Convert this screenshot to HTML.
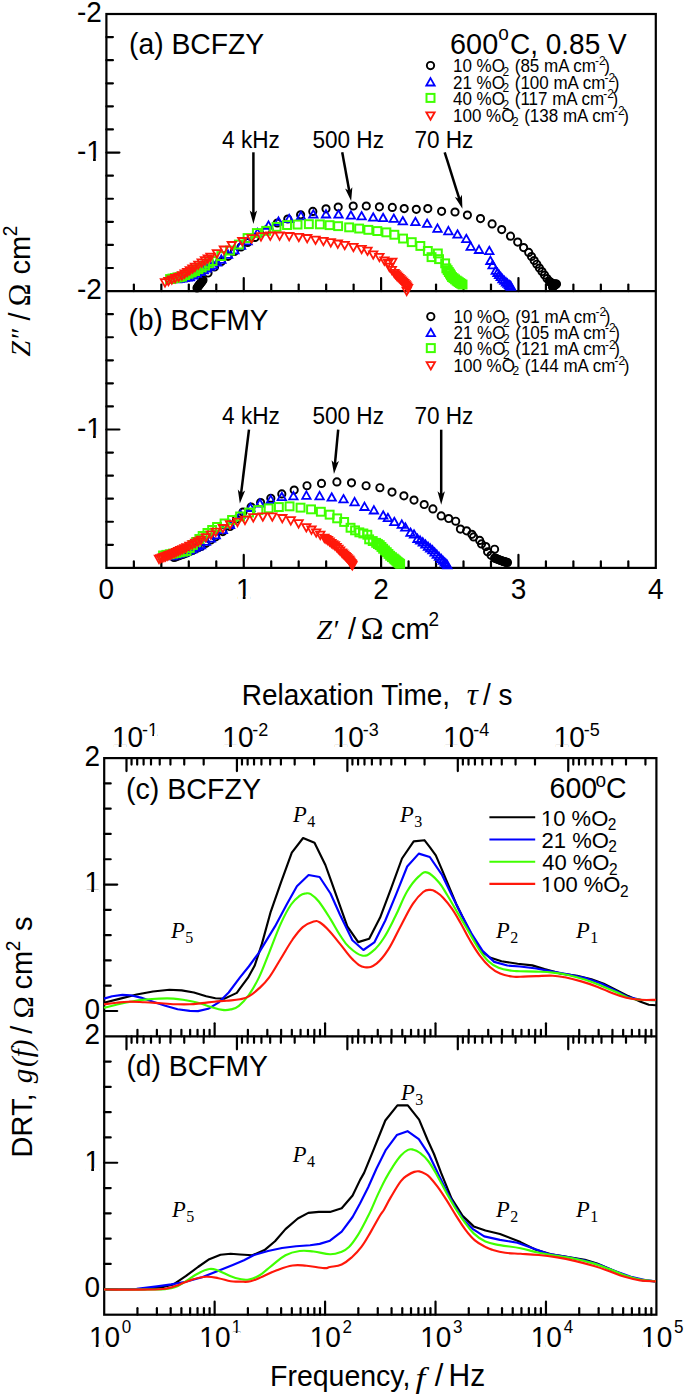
<!DOCTYPE html><html><head><meta charset="utf-8"><style>html,body{margin:0;padding:0;background:#fff;}svg{display:block;}</style></head><body><svg width="685" height="1395" viewBox="0 0 685 1395">
<rect width="685" height="1395" fill="#fff"/>
<rect x="106.40" y="14.00" width="549.40" height="553.90" fill="none" stroke="#000" stroke-width="2.2"/>
<line x1="106.40" y1="291.10" x2="655.80" y2="291.10" stroke="#000" stroke-width="2.2" stroke-linecap="butt"/>
<line x1="106.40" y1="37.09" x2="112.90" y2="37.09" stroke="#000" stroke-width="2.2" stroke-linecap="round"/>
<line x1="106.40" y1="60.18" x2="112.90" y2="60.18" stroke="#000" stroke-width="2.2" stroke-linecap="round"/>
<line x1="106.40" y1="83.28" x2="112.90" y2="83.28" stroke="#000" stroke-width="2.2" stroke-linecap="round"/>
<line x1="106.40" y1="106.37" x2="112.90" y2="106.37" stroke="#000" stroke-width="2.2" stroke-linecap="round"/>
<line x1="106.40" y1="129.46" x2="112.90" y2="129.46" stroke="#000" stroke-width="2.2" stroke-linecap="round"/>
<line x1="106.40" y1="152.55" x2="119.40" y2="152.55" stroke="#000" stroke-width="2.2" stroke-linecap="round"/>
<line x1="106.40" y1="175.64" x2="112.90" y2="175.64" stroke="#000" stroke-width="2.2" stroke-linecap="round"/>
<line x1="106.40" y1="198.73" x2="112.90" y2="198.73" stroke="#000" stroke-width="2.2" stroke-linecap="round"/>
<line x1="106.40" y1="221.83" x2="112.90" y2="221.83" stroke="#000" stroke-width="2.2" stroke-linecap="round"/>
<line x1="106.40" y1="244.92" x2="112.90" y2="244.92" stroke="#000" stroke-width="2.2" stroke-linecap="round"/>
<line x1="106.40" y1="268.01" x2="112.90" y2="268.01" stroke="#000" stroke-width="2.2" stroke-linecap="round"/>
<line x1="106.40" y1="314.17" x2="112.90" y2="314.17" stroke="#000" stroke-width="2.2" stroke-linecap="round"/>
<line x1="106.40" y1="337.23" x2="112.90" y2="337.23" stroke="#000" stroke-width="2.2" stroke-linecap="round"/>
<line x1="106.40" y1="360.30" x2="112.90" y2="360.30" stroke="#000" stroke-width="2.2" stroke-linecap="round"/>
<line x1="106.40" y1="383.37" x2="112.90" y2="383.37" stroke="#000" stroke-width="2.2" stroke-linecap="round"/>
<line x1="106.40" y1="406.43" x2="112.90" y2="406.43" stroke="#000" stroke-width="2.2" stroke-linecap="round"/>
<line x1="106.40" y1="429.50" x2="119.40" y2="429.50" stroke="#000" stroke-width="2.2" stroke-linecap="round"/>
<line x1="106.40" y1="452.57" x2="112.90" y2="452.57" stroke="#000" stroke-width="2.2" stroke-linecap="round"/>
<line x1="106.40" y1="475.63" x2="112.90" y2="475.63" stroke="#000" stroke-width="2.2" stroke-linecap="round"/>
<line x1="106.40" y1="498.70" x2="112.90" y2="498.70" stroke="#000" stroke-width="2.2" stroke-linecap="round"/>
<line x1="106.40" y1="521.77" x2="112.90" y2="521.77" stroke="#000" stroke-width="2.2" stroke-linecap="round"/>
<line x1="106.40" y1="544.83" x2="112.90" y2="544.83" stroke="#000" stroke-width="2.2" stroke-linecap="round"/>
<line x1="133.87" y1="291.10" x2="133.87" y2="284.60" stroke="#000" stroke-width="2.2" stroke-linecap="round"/>
<line x1="161.34" y1="291.10" x2="161.34" y2="284.60" stroke="#000" stroke-width="2.2" stroke-linecap="round"/>
<line x1="188.81" y1="291.10" x2="188.81" y2="284.60" stroke="#000" stroke-width="2.2" stroke-linecap="round"/>
<line x1="216.28" y1="291.10" x2="216.28" y2="284.60" stroke="#000" stroke-width="2.2" stroke-linecap="round"/>
<line x1="243.75" y1="291.10" x2="243.75" y2="278.10" stroke="#000" stroke-width="2.2" stroke-linecap="round"/>
<line x1="271.22" y1="291.10" x2="271.22" y2="284.60" stroke="#000" stroke-width="2.2" stroke-linecap="round"/>
<line x1="298.69" y1="291.10" x2="298.69" y2="284.60" stroke="#000" stroke-width="2.2" stroke-linecap="round"/>
<line x1="326.16" y1="291.10" x2="326.16" y2="284.60" stroke="#000" stroke-width="2.2" stroke-linecap="round"/>
<line x1="353.63" y1="291.10" x2="353.63" y2="284.60" stroke="#000" stroke-width="2.2" stroke-linecap="round"/>
<line x1="381.10" y1="291.10" x2="381.10" y2="278.10" stroke="#000" stroke-width="2.2" stroke-linecap="round"/>
<line x1="408.57" y1="291.10" x2="408.57" y2="284.60" stroke="#000" stroke-width="2.2" stroke-linecap="round"/>
<line x1="436.04" y1="291.10" x2="436.04" y2="284.60" stroke="#000" stroke-width="2.2" stroke-linecap="round"/>
<line x1="463.51" y1="291.10" x2="463.51" y2="284.60" stroke="#000" stroke-width="2.2" stroke-linecap="round"/>
<line x1="490.98" y1="291.10" x2="490.98" y2="284.60" stroke="#000" stroke-width="2.2" stroke-linecap="round"/>
<line x1="518.45" y1="291.10" x2="518.45" y2="278.10" stroke="#000" stroke-width="2.2" stroke-linecap="round"/>
<line x1="545.92" y1="291.10" x2="545.92" y2="284.60" stroke="#000" stroke-width="2.2" stroke-linecap="round"/>
<line x1="573.39" y1="291.10" x2="573.39" y2="284.60" stroke="#000" stroke-width="2.2" stroke-linecap="round"/>
<line x1="600.86" y1="291.10" x2="600.86" y2="284.60" stroke="#000" stroke-width="2.2" stroke-linecap="round"/>
<line x1="628.33" y1="291.10" x2="628.33" y2="284.60" stroke="#000" stroke-width="2.2" stroke-linecap="round"/>
<line x1="133.87" y1="567.90" x2="133.87" y2="561.40" stroke="#000" stroke-width="2.2" stroke-linecap="round"/>
<line x1="161.34" y1="567.90" x2="161.34" y2="561.40" stroke="#000" stroke-width="2.2" stroke-linecap="round"/>
<line x1="188.81" y1="567.90" x2="188.81" y2="561.40" stroke="#000" stroke-width="2.2" stroke-linecap="round"/>
<line x1="216.28" y1="567.90" x2="216.28" y2="561.40" stroke="#000" stroke-width="2.2" stroke-linecap="round"/>
<line x1="243.75" y1="567.90" x2="243.75" y2="554.90" stroke="#000" stroke-width="2.2" stroke-linecap="round"/>
<line x1="271.22" y1="567.90" x2="271.22" y2="561.40" stroke="#000" stroke-width="2.2" stroke-linecap="round"/>
<line x1="298.69" y1="567.90" x2="298.69" y2="561.40" stroke="#000" stroke-width="2.2" stroke-linecap="round"/>
<line x1="326.16" y1="567.90" x2="326.16" y2="561.40" stroke="#000" stroke-width="2.2" stroke-linecap="round"/>
<line x1="353.63" y1="567.90" x2="353.63" y2="561.40" stroke="#000" stroke-width="2.2" stroke-linecap="round"/>
<line x1="381.10" y1="567.90" x2="381.10" y2="554.90" stroke="#000" stroke-width="2.2" stroke-linecap="round"/>
<line x1="408.57" y1="567.90" x2="408.57" y2="561.40" stroke="#000" stroke-width="2.2" stroke-linecap="round"/>
<line x1="436.04" y1="567.90" x2="436.04" y2="561.40" stroke="#000" stroke-width="2.2" stroke-linecap="round"/>
<line x1="463.51" y1="567.90" x2="463.51" y2="561.40" stroke="#000" stroke-width="2.2" stroke-linecap="round"/>
<line x1="490.98" y1="567.90" x2="490.98" y2="561.40" stroke="#000" stroke-width="2.2" stroke-linecap="round"/>
<line x1="518.45" y1="567.90" x2="518.45" y2="554.90" stroke="#000" stroke-width="2.2" stroke-linecap="round"/>
<line x1="545.92" y1="567.90" x2="545.92" y2="561.40" stroke="#000" stroke-width="2.2" stroke-linecap="round"/>
<line x1="573.39" y1="567.90" x2="573.39" y2="561.40" stroke="#000" stroke-width="2.2" stroke-linecap="round"/>
<line x1="600.86" y1="567.90" x2="600.86" y2="561.40" stroke="#000" stroke-width="2.2" stroke-linecap="round"/>
<line x1="628.33" y1="567.90" x2="628.33" y2="561.40" stroke="#000" stroke-width="2.2" stroke-linecap="round"/>
<rect x="104.20" y="758.10" width="552.20" height="556.60" fill="none" stroke="#000" stroke-width="2.2"/>
<line x1="104.20" y1="1036.30" x2="656.40" y2="1036.30" stroke="#000" stroke-width="2.2" stroke-linecap="butt"/>
<line x1="104.20" y1="783.39" x2="110.70" y2="783.39" stroke="#000" stroke-width="2.2" stroke-linecap="round"/>
<line x1="104.20" y1="808.68" x2="110.70" y2="808.68" stroke="#000" stroke-width="2.2" stroke-linecap="round"/>
<line x1="104.20" y1="833.97" x2="110.70" y2="833.97" stroke="#000" stroke-width="2.2" stroke-linecap="round"/>
<line x1="104.20" y1="859.26" x2="110.70" y2="859.26" stroke="#000" stroke-width="2.2" stroke-linecap="round"/>
<line x1="104.20" y1="884.55" x2="117.20" y2="884.55" stroke="#000" stroke-width="2.2" stroke-linecap="round"/>
<line x1="104.20" y1="909.85" x2="110.70" y2="909.85" stroke="#000" stroke-width="2.2" stroke-linecap="round"/>
<line x1="104.20" y1="935.14" x2="110.70" y2="935.14" stroke="#000" stroke-width="2.2" stroke-linecap="round"/>
<line x1="104.20" y1="960.43" x2="110.70" y2="960.43" stroke="#000" stroke-width="2.2" stroke-linecap="round"/>
<line x1="104.20" y1="985.72" x2="110.70" y2="985.72" stroke="#000" stroke-width="2.2" stroke-linecap="round"/>
<line x1="104.20" y1="1011.01" x2="117.20" y2="1011.01" stroke="#000" stroke-width="2.2" stroke-linecap="round"/>
<line x1="104.20" y1="1061.59" x2="110.70" y2="1061.59" stroke="#000" stroke-width="2.2" stroke-linecap="round"/>
<line x1="104.20" y1="1086.88" x2="110.70" y2="1086.88" stroke="#000" stroke-width="2.2" stroke-linecap="round"/>
<line x1="104.20" y1="1112.17" x2="110.70" y2="1112.17" stroke="#000" stroke-width="2.2" stroke-linecap="round"/>
<line x1="104.20" y1="1137.46" x2="110.70" y2="1137.46" stroke="#000" stroke-width="2.2" stroke-linecap="round"/>
<line x1="104.20" y1="1162.75" x2="117.20" y2="1162.75" stroke="#000" stroke-width="2.2" stroke-linecap="round"/>
<line x1="104.20" y1="1188.05" x2="110.70" y2="1188.05" stroke="#000" stroke-width="2.2" stroke-linecap="round"/>
<line x1="104.20" y1="1213.34" x2="110.70" y2="1213.34" stroke="#000" stroke-width="2.2" stroke-linecap="round"/>
<line x1="104.20" y1="1238.63" x2="110.70" y2="1238.63" stroke="#000" stroke-width="2.2" stroke-linecap="round"/>
<line x1="104.20" y1="1263.92" x2="110.70" y2="1263.92" stroke="#000" stroke-width="2.2" stroke-linecap="round"/>
<line x1="104.20" y1="1289.21" x2="117.20" y2="1289.21" stroke="#000" stroke-width="2.2" stroke-linecap="round"/>
<line x1="137.45" y1="1036.30" x2="137.45" y2="1029.80" stroke="#000" stroke-width="2.2" stroke-linecap="round"/>
<line x1="156.89" y1="1036.30" x2="156.89" y2="1029.80" stroke="#000" stroke-width="2.2" stroke-linecap="round"/>
<line x1="170.69" y1="1036.30" x2="170.69" y2="1029.80" stroke="#000" stroke-width="2.2" stroke-linecap="round"/>
<line x1="181.39" y1="1036.30" x2="181.39" y2="1029.80" stroke="#000" stroke-width="2.2" stroke-linecap="round"/>
<line x1="190.14" y1="1036.30" x2="190.14" y2="1029.80" stroke="#000" stroke-width="2.2" stroke-linecap="round"/>
<line x1="197.53" y1="1036.30" x2="197.53" y2="1029.80" stroke="#000" stroke-width="2.2" stroke-linecap="round"/>
<line x1="203.94" y1="1036.30" x2="203.94" y2="1029.80" stroke="#000" stroke-width="2.2" stroke-linecap="round"/>
<line x1="209.59" y1="1036.30" x2="209.59" y2="1029.80" stroke="#000" stroke-width="2.2" stroke-linecap="round"/>
<line x1="214.64" y1="1036.30" x2="214.64" y2="1023.30" stroke="#000" stroke-width="2.2" stroke-linecap="round"/>
<line x1="247.89" y1="1036.30" x2="247.89" y2="1029.80" stroke="#000" stroke-width="2.2" stroke-linecap="round"/>
<line x1="267.33" y1="1036.30" x2="267.33" y2="1029.80" stroke="#000" stroke-width="2.2" stroke-linecap="round"/>
<line x1="281.13" y1="1036.30" x2="281.13" y2="1029.80" stroke="#000" stroke-width="2.2" stroke-linecap="round"/>
<line x1="291.83" y1="1036.30" x2="291.83" y2="1029.80" stroke="#000" stroke-width="2.2" stroke-linecap="round"/>
<line x1="300.58" y1="1036.30" x2="300.58" y2="1029.80" stroke="#000" stroke-width="2.2" stroke-linecap="round"/>
<line x1="307.97" y1="1036.30" x2="307.97" y2="1029.80" stroke="#000" stroke-width="2.2" stroke-linecap="round"/>
<line x1="314.38" y1="1036.30" x2="314.38" y2="1029.80" stroke="#000" stroke-width="2.2" stroke-linecap="round"/>
<line x1="320.03" y1="1036.30" x2="320.03" y2="1029.80" stroke="#000" stroke-width="2.2" stroke-linecap="round"/>
<line x1="325.08" y1="1036.30" x2="325.08" y2="1023.30" stroke="#000" stroke-width="2.2" stroke-linecap="round"/>
<line x1="358.33" y1="1036.30" x2="358.33" y2="1029.80" stroke="#000" stroke-width="2.2" stroke-linecap="round"/>
<line x1="377.77" y1="1036.30" x2="377.77" y2="1029.80" stroke="#000" stroke-width="2.2" stroke-linecap="round"/>
<line x1="391.57" y1="1036.30" x2="391.57" y2="1029.80" stroke="#000" stroke-width="2.2" stroke-linecap="round"/>
<line x1="402.27" y1="1036.30" x2="402.27" y2="1029.80" stroke="#000" stroke-width="2.2" stroke-linecap="round"/>
<line x1="411.02" y1="1036.30" x2="411.02" y2="1029.80" stroke="#000" stroke-width="2.2" stroke-linecap="round"/>
<line x1="418.41" y1="1036.30" x2="418.41" y2="1029.80" stroke="#000" stroke-width="2.2" stroke-linecap="round"/>
<line x1="424.82" y1="1036.30" x2="424.82" y2="1029.80" stroke="#000" stroke-width="2.2" stroke-linecap="round"/>
<line x1="430.47" y1="1036.30" x2="430.47" y2="1029.80" stroke="#000" stroke-width="2.2" stroke-linecap="round"/>
<line x1="435.52" y1="1036.30" x2="435.52" y2="1023.30" stroke="#000" stroke-width="2.2" stroke-linecap="round"/>
<line x1="468.77" y1="1036.30" x2="468.77" y2="1029.80" stroke="#000" stroke-width="2.2" stroke-linecap="round"/>
<line x1="488.21" y1="1036.30" x2="488.21" y2="1029.80" stroke="#000" stroke-width="2.2" stroke-linecap="round"/>
<line x1="502.01" y1="1036.30" x2="502.01" y2="1029.80" stroke="#000" stroke-width="2.2" stroke-linecap="round"/>
<line x1="512.71" y1="1036.30" x2="512.71" y2="1029.80" stroke="#000" stroke-width="2.2" stroke-linecap="round"/>
<line x1="521.46" y1="1036.30" x2="521.46" y2="1029.80" stroke="#000" stroke-width="2.2" stroke-linecap="round"/>
<line x1="528.85" y1="1036.30" x2="528.85" y2="1029.80" stroke="#000" stroke-width="2.2" stroke-linecap="round"/>
<line x1="535.26" y1="1036.30" x2="535.26" y2="1029.80" stroke="#000" stroke-width="2.2" stroke-linecap="round"/>
<line x1="540.91" y1="1036.30" x2="540.91" y2="1029.80" stroke="#000" stroke-width="2.2" stroke-linecap="round"/>
<line x1="545.96" y1="1036.30" x2="545.96" y2="1023.30" stroke="#000" stroke-width="2.2" stroke-linecap="round"/>
<line x1="579.21" y1="1036.30" x2="579.21" y2="1029.80" stroke="#000" stroke-width="2.2" stroke-linecap="round"/>
<line x1="598.65" y1="1036.30" x2="598.65" y2="1029.80" stroke="#000" stroke-width="2.2" stroke-linecap="round"/>
<line x1="612.45" y1="1036.30" x2="612.45" y2="1029.80" stroke="#000" stroke-width="2.2" stroke-linecap="round"/>
<line x1="623.15" y1="1036.30" x2="623.15" y2="1029.80" stroke="#000" stroke-width="2.2" stroke-linecap="round"/>
<line x1="631.90" y1="1036.30" x2="631.90" y2="1029.80" stroke="#000" stroke-width="2.2" stroke-linecap="round"/>
<line x1="639.29" y1="1036.30" x2="639.29" y2="1029.80" stroke="#000" stroke-width="2.2" stroke-linecap="round"/>
<line x1="645.70" y1="1036.30" x2="645.70" y2="1029.80" stroke="#000" stroke-width="2.2" stroke-linecap="round"/>
<line x1="651.35" y1="1036.30" x2="651.35" y2="1029.80" stroke="#000" stroke-width="2.2" stroke-linecap="round"/>
<line x1="137.45" y1="1314.70" x2="137.45" y2="1308.20" stroke="#000" stroke-width="2.2" stroke-linecap="round"/>
<line x1="156.89" y1="1314.70" x2="156.89" y2="1308.20" stroke="#000" stroke-width="2.2" stroke-linecap="round"/>
<line x1="170.69" y1="1314.70" x2="170.69" y2="1308.20" stroke="#000" stroke-width="2.2" stroke-linecap="round"/>
<line x1="181.39" y1="1314.70" x2="181.39" y2="1308.20" stroke="#000" stroke-width="2.2" stroke-linecap="round"/>
<line x1="190.14" y1="1314.70" x2="190.14" y2="1308.20" stroke="#000" stroke-width="2.2" stroke-linecap="round"/>
<line x1="197.53" y1="1314.70" x2="197.53" y2="1308.20" stroke="#000" stroke-width="2.2" stroke-linecap="round"/>
<line x1="203.94" y1="1314.70" x2="203.94" y2="1308.20" stroke="#000" stroke-width="2.2" stroke-linecap="round"/>
<line x1="209.59" y1="1314.70" x2="209.59" y2="1308.20" stroke="#000" stroke-width="2.2" stroke-linecap="round"/>
<line x1="214.64" y1="1314.70" x2="214.64" y2="1301.70" stroke="#000" stroke-width="2.2" stroke-linecap="round"/>
<line x1="247.89" y1="1314.70" x2="247.89" y2="1308.20" stroke="#000" stroke-width="2.2" stroke-linecap="round"/>
<line x1="267.33" y1="1314.70" x2="267.33" y2="1308.20" stroke="#000" stroke-width="2.2" stroke-linecap="round"/>
<line x1="281.13" y1="1314.70" x2="281.13" y2="1308.20" stroke="#000" stroke-width="2.2" stroke-linecap="round"/>
<line x1="291.83" y1="1314.70" x2="291.83" y2="1308.20" stroke="#000" stroke-width="2.2" stroke-linecap="round"/>
<line x1="300.58" y1="1314.70" x2="300.58" y2="1308.20" stroke="#000" stroke-width="2.2" stroke-linecap="round"/>
<line x1="307.97" y1="1314.70" x2="307.97" y2="1308.20" stroke="#000" stroke-width="2.2" stroke-linecap="round"/>
<line x1="314.38" y1="1314.70" x2="314.38" y2="1308.20" stroke="#000" stroke-width="2.2" stroke-linecap="round"/>
<line x1="320.03" y1="1314.70" x2="320.03" y2="1308.20" stroke="#000" stroke-width="2.2" stroke-linecap="round"/>
<line x1="325.08" y1="1314.70" x2="325.08" y2="1301.70" stroke="#000" stroke-width="2.2" stroke-linecap="round"/>
<line x1="358.33" y1="1314.70" x2="358.33" y2="1308.20" stroke="#000" stroke-width="2.2" stroke-linecap="round"/>
<line x1="377.77" y1="1314.70" x2="377.77" y2="1308.20" stroke="#000" stroke-width="2.2" stroke-linecap="round"/>
<line x1="391.57" y1="1314.70" x2="391.57" y2="1308.20" stroke="#000" stroke-width="2.2" stroke-linecap="round"/>
<line x1="402.27" y1="1314.70" x2="402.27" y2="1308.20" stroke="#000" stroke-width="2.2" stroke-linecap="round"/>
<line x1="411.02" y1="1314.70" x2="411.02" y2="1308.20" stroke="#000" stroke-width="2.2" stroke-linecap="round"/>
<line x1="418.41" y1="1314.70" x2="418.41" y2="1308.20" stroke="#000" stroke-width="2.2" stroke-linecap="round"/>
<line x1="424.82" y1="1314.70" x2="424.82" y2="1308.20" stroke="#000" stroke-width="2.2" stroke-linecap="round"/>
<line x1="430.47" y1="1314.70" x2="430.47" y2="1308.20" stroke="#000" stroke-width="2.2" stroke-linecap="round"/>
<line x1="435.52" y1="1314.70" x2="435.52" y2="1301.70" stroke="#000" stroke-width="2.2" stroke-linecap="round"/>
<line x1="468.77" y1="1314.70" x2="468.77" y2="1308.20" stroke="#000" stroke-width="2.2" stroke-linecap="round"/>
<line x1="488.21" y1="1314.70" x2="488.21" y2="1308.20" stroke="#000" stroke-width="2.2" stroke-linecap="round"/>
<line x1="502.01" y1="1314.70" x2="502.01" y2="1308.20" stroke="#000" stroke-width="2.2" stroke-linecap="round"/>
<line x1="512.71" y1="1314.70" x2="512.71" y2="1308.20" stroke="#000" stroke-width="2.2" stroke-linecap="round"/>
<line x1="521.46" y1="1314.70" x2="521.46" y2="1308.20" stroke="#000" stroke-width="2.2" stroke-linecap="round"/>
<line x1="528.85" y1="1314.70" x2="528.85" y2="1308.20" stroke="#000" stroke-width="2.2" stroke-linecap="round"/>
<line x1="535.26" y1="1314.70" x2="535.26" y2="1308.20" stroke="#000" stroke-width="2.2" stroke-linecap="round"/>
<line x1="540.91" y1="1314.70" x2="540.91" y2="1308.20" stroke="#000" stroke-width="2.2" stroke-linecap="round"/>
<line x1="545.96" y1="1314.70" x2="545.96" y2="1301.70" stroke="#000" stroke-width="2.2" stroke-linecap="round"/>
<line x1="579.21" y1="1314.70" x2="579.21" y2="1308.20" stroke="#000" stroke-width="2.2" stroke-linecap="round"/>
<line x1="598.65" y1="1314.70" x2="598.65" y2="1308.20" stroke="#000" stroke-width="2.2" stroke-linecap="round"/>
<line x1="612.45" y1="1314.70" x2="612.45" y2="1308.20" stroke="#000" stroke-width="2.2" stroke-linecap="round"/>
<line x1="623.15" y1="1314.70" x2="623.15" y2="1308.20" stroke="#000" stroke-width="2.2" stroke-linecap="round"/>
<line x1="631.90" y1="1314.70" x2="631.90" y2="1308.20" stroke="#000" stroke-width="2.2" stroke-linecap="round"/>
<line x1="639.29" y1="1314.70" x2="639.29" y2="1308.20" stroke="#000" stroke-width="2.2" stroke-linecap="round"/>
<line x1="645.70" y1="1314.70" x2="645.70" y2="1308.20" stroke="#000" stroke-width="2.2" stroke-linecap="round"/>
<line x1="651.35" y1="1314.70" x2="651.35" y2="1308.20" stroke="#000" stroke-width="2.2" stroke-linecap="round"/>
<line x1="126.49" y1="758.10" x2="126.49" y2="771.10" stroke="#000" stroke-width="2.2" stroke-linecap="round"/>
<line x1="236.93" y1="758.10" x2="236.93" y2="771.10" stroke="#000" stroke-width="2.2" stroke-linecap="round"/>
<line x1="203.68" y1="758.10" x2="203.68" y2="764.60" stroke="#000" stroke-width="2.2" stroke-linecap="round"/>
<line x1="184.24" y1="758.10" x2="184.24" y2="764.60" stroke="#000" stroke-width="2.2" stroke-linecap="round"/>
<line x1="170.44" y1="758.10" x2="170.44" y2="764.60" stroke="#000" stroke-width="2.2" stroke-linecap="round"/>
<line x1="159.73" y1="758.10" x2="159.73" y2="764.60" stroke="#000" stroke-width="2.2" stroke-linecap="round"/>
<line x1="150.99" y1="758.10" x2="150.99" y2="764.60" stroke="#000" stroke-width="2.2" stroke-linecap="round"/>
<line x1="143.60" y1="758.10" x2="143.60" y2="764.60" stroke="#000" stroke-width="2.2" stroke-linecap="round"/>
<line x1="137.19" y1="758.10" x2="137.19" y2="764.60" stroke="#000" stroke-width="2.2" stroke-linecap="round"/>
<line x1="131.54" y1="758.10" x2="131.54" y2="764.60" stroke="#000" stroke-width="2.2" stroke-linecap="round"/>
<line x1="347.37" y1="758.10" x2="347.37" y2="771.10" stroke="#000" stroke-width="2.2" stroke-linecap="round"/>
<line x1="314.12" y1="758.10" x2="314.12" y2="764.60" stroke="#000" stroke-width="2.2" stroke-linecap="round"/>
<line x1="294.68" y1="758.10" x2="294.68" y2="764.60" stroke="#000" stroke-width="2.2" stroke-linecap="round"/>
<line x1="280.88" y1="758.10" x2="280.88" y2="764.60" stroke="#000" stroke-width="2.2" stroke-linecap="round"/>
<line x1="270.17" y1="758.10" x2="270.17" y2="764.60" stroke="#000" stroke-width="2.2" stroke-linecap="round"/>
<line x1="261.43" y1="758.10" x2="261.43" y2="764.60" stroke="#000" stroke-width="2.2" stroke-linecap="round"/>
<line x1="254.04" y1="758.10" x2="254.04" y2="764.60" stroke="#000" stroke-width="2.2" stroke-linecap="round"/>
<line x1="247.63" y1="758.10" x2="247.63" y2="764.60" stroke="#000" stroke-width="2.2" stroke-linecap="round"/>
<line x1="241.98" y1="758.10" x2="241.98" y2="764.60" stroke="#000" stroke-width="2.2" stroke-linecap="round"/>
<line x1="457.81" y1="758.10" x2="457.81" y2="771.10" stroke="#000" stroke-width="2.2" stroke-linecap="round"/>
<line x1="424.56" y1="758.10" x2="424.56" y2="764.60" stroke="#000" stroke-width="2.2" stroke-linecap="round"/>
<line x1="405.12" y1="758.10" x2="405.12" y2="764.60" stroke="#000" stroke-width="2.2" stroke-linecap="round"/>
<line x1="391.32" y1="758.10" x2="391.32" y2="764.60" stroke="#000" stroke-width="2.2" stroke-linecap="round"/>
<line x1="380.61" y1="758.10" x2="380.61" y2="764.60" stroke="#000" stroke-width="2.2" stroke-linecap="round"/>
<line x1="371.87" y1="758.10" x2="371.87" y2="764.60" stroke="#000" stroke-width="2.2" stroke-linecap="round"/>
<line x1="364.48" y1="758.10" x2="364.48" y2="764.60" stroke="#000" stroke-width="2.2" stroke-linecap="round"/>
<line x1="358.07" y1="758.10" x2="358.07" y2="764.60" stroke="#000" stroke-width="2.2" stroke-linecap="round"/>
<line x1="352.42" y1="758.10" x2="352.42" y2="764.60" stroke="#000" stroke-width="2.2" stroke-linecap="round"/>
<line x1="568.25" y1="758.10" x2="568.25" y2="771.10" stroke="#000" stroke-width="2.2" stroke-linecap="round"/>
<line x1="535.00" y1="758.10" x2="535.00" y2="764.60" stroke="#000" stroke-width="2.2" stroke-linecap="round"/>
<line x1="515.56" y1="758.10" x2="515.56" y2="764.60" stroke="#000" stroke-width="2.2" stroke-linecap="round"/>
<line x1="501.76" y1="758.10" x2="501.76" y2="764.60" stroke="#000" stroke-width="2.2" stroke-linecap="round"/>
<line x1="491.05" y1="758.10" x2="491.05" y2="764.60" stroke="#000" stroke-width="2.2" stroke-linecap="round"/>
<line x1="482.31" y1="758.10" x2="482.31" y2="764.60" stroke="#000" stroke-width="2.2" stroke-linecap="round"/>
<line x1="474.92" y1="758.10" x2="474.92" y2="764.60" stroke="#000" stroke-width="2.2" stroke-linecap="round"/>
<line x1="468.51" y1="758.10" x2="468.51" y2="764.60" stroke="#000" stroke-width="2.2" stroke-linecap="round"/>
<line x1="462.86" y1="758.10" x2="462.86" y2="764.60" stroke="#000" stroke-width="2.2" stroke-linecap="round"/>
<line x1="645.44" y1="758.10" x2="645.44" y2="764.60" stroke="#000" stroke-width="2.2" stroke-linecap="round"/>
<line x1="626.00" y1="758.10" x2="626.00" y2="764.60" stroke="#000" stroke-width="2.2" stroke-linecap="round"/>
<line x1="612.20" y1="758.10" x2="612.20" y2="764.60" stroke="#000" stroke-width="2.2" stroke-linecap="round"/>
<line x1="601.49" y1="758.10" x2="601.49" y2="764.60" stroke="#000" stroke-width="2.2" stroke-linecap="round"/>
<line x1="592.75" y1="758.10" x2="592.75" y2="764.60" stroke="#000" stroke-width="2.2" stroke-linecap="round"/>
<line x1="585.36" y1="758.10" x2="585.36" y2="764.60" stroke="#000" stroke-width="2.2" stroke-linecap="round"/>
<line x1="578.95" y1="758.10" x2="578.95" y2="764.60" stroke="#000" stroke-width="2.2" stroke-linecap="round"/>
<line x1="573.30" y1="758.10" x2="573.30" y2="764.60" stroke="#000" stroke-width="2.2" stroke-linecap="round"/>
<line x1="126.49" y1="1036.30" x2="126.49" y2="1049.30" stroke="#000" stroke-width="2.2" stroke-linecap="round"/>
<line x1="236.93" y1="1036.30" x2="236.93" y2="1049.30" stroke="#000" stroke-width="2.2" stroke-linecap="round"/>
<line x1="203.68" y1="1036.30" x2="203.68" y2="1042.80" stroke="#000" stroke-width="2.2" stroke-linecap="round"/>
<line x1="184.24" y1="1036.30" x2="184.24" y2="1042.80" stroke="#000" stroke-width="2.2" stroke-linecap="round"/>
<line x1="170.44" y1="1036.30" x2="170.44" y2="1042.80" stroke="#000" stroke-width="2.2" stroke-linecap="round"/>
<line x1="159.73" y1="1036.30" x2="159.73" y2="1042.80" stroke="#000" stroke-width="2.2" stroke-linecap="round"/>
<line x1="150.99" y1="1036.30" x2="150.99" y2="1042.80" stroke="#000" stroke-width="2.2" stroke-linecap="round"/>
<line x1="143.60" y1="1036.30" x2="143.60" y2="1042.80" stroke="#000" stroke-width="2.2" stroke-linecap="round"/>
<line x1="137.19" y1="1036.30" x2="137.19" y2="1042.80" stroke="#000" stroke-width="2.2" stroke-linecap="round"/>
<line x1="131.54" y1="1036.30" x2="131.54" y2="1042.80" stroke="#000" stroke-width="2.2" stroke-linecap="round"/>
<line x1="347.37" y1="1036.30" x2="347.37" y2="1049.30" stroke="#000" stroke-width="2.2" stroke-linecap="round"/>
<line x1="314.12" y1="1036.30" x2="314.12" y2="1042.80" stroke="#000" stroke-width="2.2" stroke-linecap="round"/>
<line x1="294.68" y1="1036.30" x2="294.68" y2="1042.80" stroke="#000" stroke-width="2.2" stroke-linecap="round"/>
<line x1="280.88" y1="1036.30" x2="280.88" y2="1042.80" stroke="#000" stroke-width="2.2" stroke-linecap="round"/>
<line x1="270.17" y1="1036.30" x2="270.17" y2="1042.80" stroke="#000" stroke-width="2.2" stroke-linecap="round"/>
<line x1="261.43" y1="1036.30" x2="261.43" y2="1042.80" stroke="#000" stroke-width="2.2" stroke-linecap="round"/>
<line x1="254.04" y1="1036.30" x2="254.04" y2="1042.80" stroke="#000" stroke-width="2.2" stroke-linecap="round"/>
<line x1="247.63" y1="1036.30" x2="247.63" y2="1042.80" stroke="#000" stroke-width="2.2" stroke-linecap="round"/>
<line x1="241.98" y1="1036.30" x2="241.98" y2="1042.80" stroke="#000" stroke-width="2.2" stroke-linecap="round"/>
<line x1="457.81" y1="1036.30" x2="457.81" y2="1049.30" stroke="#000" stroke-width="2.2" stroke-linecap="round"/>
<line x1="424.56" y1="1036.30" x2="424.56" y2="1042.80" stroke="#000" stroke-width="2.2" stroke-linecap="round"/>
<line x1="405.12" y1="1036.30" x2="405.12" y2="1042.80" stroke="#000" stroke-width="2.2" stroke-linecap="round"/>
<line x1="391.32" y1="1036.30" x2="391.32" y2="1042.80" stroke="#000" stroke-width="2.2" stroke-linecap="round"/>
<line x1="380.61" y1="1036.30" x2="380.61" y2="1042.80" stroke="#000" stroke-width="2.2" stroke-linecap="round"/>
<line x1="371.87" y1="1036.30" x2="371.87" y2="1042.80" stroke="#000" stroke-width="2.2" stroke-linecap="round"/>
<line x1="364.48" y1="1036.30" x2="364.48" y2="1042.80" stroke="#000" stroke-width="2.2" stroke-linecap="round"/>
<line x1="358.07" y1="1036.30" x2="358.07" y2="1042.80" stroke="#000" stroke-width="2.2" stroke-linecap="round"/>
<line x1="352.42" y1="1036.30" x2="352.42" y2="1042.80" stroke="#000" stroke-width="2.2" stroke-linecap="round"/>
<line x1="568.25" y1="1036.30" x2="568.25" y2="1049.30" stroke="#000" stroke-width="2.2" stroke-linecap="round"/>
<line x1="535.00" y1="1036.30" x2="535.00" y2="1042.80" stroke="#000" stroke-width="2.2" stroke-linecap="round"/>
<line x1="515.56" y1="1036.30" x2="515.56" y2="1042.80" stroke="#000" stroke-width="2.2" stroke-linecap="round"/>
<line x1="501.76" y1="1036.30" x2="501.76" y2="1042.80" stroke="#000" stroke-width="2.2" stroke-linecap="round"/>
<line x1="491.05" y1="1036.30" x2="491.05" y2="1042.80" stroke="#000" stroke-width="2.2" stroke-linecap="round"/>
<line x1="482.31" y1="1036.30" x2="482.31" y2="1042.80" stroke="#000" stroke-width="2.2" stroke-linecap="round"/>
<line x1="474.92" y1="1036.30" x2="474.92" y2="1042.80" stroke="#000" stroke-width="2.2" stroke-linecap="round"/>
<line x1="468.51" y1="1036.30" x2="468.51" y2="1042.80" stroke="#000" stroke-width="2.2" stroke-linecap="round"/>
<line x1="462.86" y1="1036.30" x2="462.86" y2="1042.80" stroke="#000" stroke-width="2.2" stroke-linecap="round"/>
<line x1="645.44" y1="1036.30" x2="645.44" y2="1042.80" stroke="#000" stroke-width="2.2" stroke-linecap="round"/>
<line x1="626.00" y1="1036.30" x2="626.00" y2="1042.80" stroke="#000" stroke-width="2.2" stroke-linecap="round"/>
<line x1="612.20" y1="1036.30" x2="612.20" y2="1042.80" stroke="#000" stroke-width="2.2" stroke-linecap="round"/>
<line x1="601.49" y1="1036.30" x2="601.49" y2="1042.80" stroke="#000" stroke-width="2.2" stroke-linecap="round"/>
<line x1="592.75" y1="1036.30" x2="592.75" y2="1042.80" stroke="#000" stroke-width="2.2" stroke-linecap="round"/>
<line x1="585.36" y1="1036.30" x2="585.36" y2="1042.80" stroke="#000" stroke-width="2.2" stroke-linecap="round"/>
<line x1="578.95" y1="1036.30" x2="578.95" y2="1042.80" stroke="#000" stroke-width="2.2" stroke-linecap="round"/>
<line x1="573.30" y1="1036.30" x2="573.30" y2="1042.80" stroke="#000" stroke-width="2.2" stroke-linecap="round"/>
<text transform="translate(101.80,22.00) scale(1,1.04)" font-family='"Liberation Sans", sans-serif' font-size="28" text-anchor="end">-2</text>
<text transform="translate(101.80,160.55) scale(1,1.04)" font-family='"Liberation Sans", sans-serif' font-size="28" text-anchor="end">-1</text>
<rect x="87.77" y="157.87" width="5.29" height="3.98" fill="#fff"/>
<rect x="95.78" y="157.87" width="5.29" height="3.98" fill="#fff"/>
<text transform="translate(101.80,299.10) scale(1,1.04)" font-family='"Liberation Sans", sans-serif' font-size="28" text-anchor="end">-2</text>
<text transform="translate(101.80,437.50) scale(1,1.04)" font-family='"Liberation Sans", sans-serif' font-size="28" text-anchor="end">-1</text>
<rect x="87.77" y="434.82" width="5.29" height="3.98" fill="#fff"/>
<rect x="95.78" y="434.82" width="5.29" height="3.98" fill="#fff"/>
<text transform="translate(106.40,598.60) scale(1,1.04)" font-family='"Liberation Sans", sans-serif' font-size="28" text-anchor="middle">0</text>
<text transform="translate(243.75,598.60) scale(1,1.04)" font-family='"Liberation Sans", sans-serif' font-size="28" text-anchor="middle">1</text>
<text transform="translate(381.10,598.60) scale(1,1.04)" font-family='"Liberation Sans", sans-serif' font-size="28" text-anchor="middle">2</text>
<text transform="translate(518.45,598.60) scale(1,1.04)" font-family='"Liberation Sans", sans-serif' font-size="28" text-anchor="middle">3</text>
<text transform="translate(655.80,598.60) scale(1,1.04)" font-family='"Liberation Sans", sans-serif' font-size="28" text-anchor="middle">4</text>
<rect x="237.51" y="595.92" width="5.29" height="3.98" fill="#fff"/>
<rect x="245.51" y="595.92" width="5.29" height="3.98" fill="#fff"/>
<text transform="translate(316.40,638.90) scale(1,1.0)" font-family='"Liberation Serif", serif' font-size="28" text-anchor="start" font-style="italic">Z′</text>
<text transform="translate(347.90,638.90) scale(1,1.04)" font-family='"Liberation Sans", sans-serif' font-size="29" text-anchor="start">/</text>
<text transform="translate(360.80,639.20) scale(1,1.0)" font-family='"Liberation Serif", serif' font-size="30.5" text-anchor="start">Ω</text>
<text transform="translate(391.10,638.90) scale(1,1.04)" font-family='"Liberation Sans", sans-serif' font-size="29" text-anchor="start">cm</text>
<text transform="translate(428.60,626.00) scale(1,1.04)" font-family='"Liberation Sans", sans-serif' font-size="19" text-anchor="start">2</text>
<g transform="translate(30,356) rotate(-90)">
<text transform="translate(-0.40,0.00) scale(1,1.0)" font-family='"Liberation Serif", serif' font-size="28" text-anchor="start" font-style="italic">Z″</text>
<text transform="translate(35.50,0.00) scale(1,1.04)" font-family='"Liberation Sans", sans-serif' font-size="29" text-anchor="start">/</text>
<text transform="translate(49.70,0.30) scale(1,1.0)" font-family='"Liberation Serif", serif' font-size="30.5" text-anchor="start">Ω</text>
<text transform="translate(81.60,0.00) scale(1,1.04)" font-family='"Liberation Sans", sans-serif' font-size="29" text-anchor="start">cm</text>
<text transform="translate(119.70,-12.80) scale(1,1.04)" font-family='"Liberation Sans", sans-serif' font-size="19" text-anchor="start">2</text>
</g>
<text transform="translate(129.00,54.20) scale(1,1.04)" font-family='"Liberation Sans", sans-serif' font-size="28.3" text-anchor="start">(a) BCFZY</text>
<text transform="translate(128.60,330.40) scale(1,1.04)" font-family='"Liberation Sans", sans-serif' font-size="28" text-anchor="start">(b) BCFMY</text>
<text transform="translate(450.10,54.00) scale(1,1.04)" font-family='"Liberation Sans", sans-serif' font-size="28.8" text-anchor="start">600</text>
<text transform="translate(498.20,39.80) scale(1,1.04)" font-family='"Liberation Sans", sans-serif' font-size="19" text-anchor="start">o</text>
<text transform="translate(510.00,54.00) scale(1,1.04)" font-family='"Liberation Sans", sans-serif' font-size="28" text-anchor="start">C, 0.85 V</text>
<circle cx="430.5" cy="65.5" r="3.65" fill="none" stroke="#000" stroke-width="1.95"/>
<text transform="translate(453.00,71.80) scale(1,1.04)" font-family='"Liberation Sans", sans-serif' font-size="17" text-anchor="start">10 %O<tspan dx="-2.4" dy="3.6" font-size="12">2</tspan><tspan dx="0.8" dy="-3.6"> (85 mA cm</tspan><tspan dx="-0.8" dy="-6.6" font-size="12">-2</tspan><tspan dx="-1.4" dy="6.6">)</tspan></text>
<path d="M430.5,78.1 L434.7,85.5 L426.3,85.5Z" fill="none" stroke="#0000ff" stroke-width="1.80" stroke-linejoin="miter"/>
<text transform="translate(453.00,88.50) scale(1,1.04)" font-family='"Liberation Sans", sans-serif' font-size="17" text-anchor="start">21 %O<tspan dx="-2.4" dy="3.6" font-size="12">2</tspan><tspan dx="0.8" dy="-3.6"> (100 mA cm</tspan><tspan dx="-0.8" dy="-6.6" font-size="12">-2</tspan><tspan dx="-1.4" dy="6.6">)</tspan></text>
<rect x="426.5" y="93.9" width="8.0" height="8.0" fill="none" stroke="#40ff00" stroke-width="2.0"/>
<text transform="translate(453.00,105.20) scale(1,1.04)" font-family='"Liberation Sans", sans-serif' font-size="17" text-anchor="start">40 %O<tspan dx="-2.4" dy="3.6" font-size="12">2</tspan><tspan dx="0.8" dy="-3.6"> (117 mA cm</tspan><tspan dx="-0.8" dy="-6.6" font-size="12">-2</tspan><tspan dx="-1.4" dy="6.6">)</tspan></text>
<path d="M430.5,119.7 L434.7,112.3 L426.3,112.3Z" fill="none" stroke="#ff180a" stroke-width="1.80" stroke-linejoin="miter"/>
<text transform="translate(453.00,121.90) scale(1,1.04)" font-family='"Liberation Sans", sans-serif' font-size="17" text-anchor="start">100 %O<tspan dx="-2.4" dy="3.6" font-size="12">2</tspan><tspan dx="0.8" dy="-3.6"> (138 mA cm</tspan><tspan dx="-0.8" dy="-6.6" font-size="12">-2</tspan><tspan dx="-1.4" dy="6.6">)</tspan></text>
<circle cx="430.8" cy="316.5" r="3.65" fill="none" stroke="#000" stroke-width="1.95"/>
<text transform="translate(453.50,322.80) scale(1,1.04)" font-family='"Liberation Sans", sans-serif' font-size="17" text-anchor="start">10 %O<tspan dx="-2.4" dy="3.6" font-size="12">2</tspan><tspan dx="0.8" dy="-3.6"> (91 mA cm</tspan><tspan dx="-0.8" dy="-6.6" font-size="12">-2</tspan><tspan dx="-1.4" dy="6.6">)</tspan></text>
<path d="M430.8,328.7 L435.0,336.1 L426.6,336.1Z" fill="none" stroke="#0000ff" stroke-width="1.80" stroke-linejoin="miter"/>
<text transform="translate(453.50,339.10) scale(1,1.04)" font-family='"Liberation Sans", sans-serif' font-size="17" text-anchor="start">21 %O<tspan dx="-2.4" dy="3.6" font-size="12">2</tspan><tspan dx="0.8" dy="-3.6"> (105 mA cm</tspan><tspan dx="-0.8" dy="-6.6" font-size="12">-2</tspan><tspan dx="-1.4" dy="6.6">)</tspan></text>
<rect x="426.8" y="344.1" width="8.0" height="8.0" fill="none" stroke="#40ff00" stroke-width="2.0"/>
<text transform="translate(453.50,355.40) scale(1,1.04)" font-family='"Liberation Sans", sans-serif' font-size="17" text-anchor="start">40 %O<tspan dx="-2.4" dy="3.6" font-size="12">2</tspan><tspan dx="0.8" dy="-3.6"> (121 mA cm</tspan><tspan dx="-0.8" dy="-6.6" font-size="12">-2</tspan><tspan dx="-1.4" dy="6.6">)</tspan></text>
<path d="M430.8,369.5 L435.0,362.1 L426.6,362.1Z" fill="none" stroke="#ff180a" stroke-width="1.80" stroke-linejoin="miter"/>
<text transform="translate(453.50,371.70) scale(1,1.04)" font-family='"Liberation Sans", sans-serif' font-size="17" text-anchor="start">100 %O<tspan dx="-2.4" dy="3.6" font-size="12">2</tspan><tspan dx="0.8" dy="-3.6"> (144 mA cm</tspan><tspan dx="-0.8" dy="-6.6" font-size="12">-2</tspan><tspan dx="-1.4" dy="6.6">)</tspan></text>
<text transform="translate(222.10,147.90) scale(1,1.04)" font-family='"Liberation Sans", sans-serif' font-size="22.6" text-anchor="start">4 kHz</text>
<text transform="translate(312.40,147.90) scale(1,1.04)" font-family='"Liberation Sans", sans-serif' font-size="22.6" text-anchor="start">500 Hz</text>
<text transform="translate(414.40,147.90) scale(1,1.04)" font-family='"Liberation Sans", sans-serif' font-size="22.6" text-anchor="start">70 Hz</text>
<text transform="translate(222.10,424.40) scale(1,1.04)" font-family='"Liberation Sans", sans-serif' font-size="22.6" text-anchor="start">4 kHz</text>
<text transform="translate(312.40,424.40) scale(1,1.04)" font-family='"Liberation Sans", sans-serif' font-size="22.6" text-anchor="start">500 Hz</text>
<text transform="translate(414.40,424.40) scale(1,1.04)" font-family='"Liberation Sans", sans-serif' font-size="22.6" text-anchor="start">70 Hz</text>
<line x1="253.40" y1="152.30" x2="253.40" y2="214.60" stroke="#000" stroke-width="2.5" stroke-linecap="butt"/>
<path d="M253.40,223.90 L249.70,210.40 L253.40,213.60 L257.10,210.40Z" fill="#000"/>
<line x1="342.20" y1="152.30" x2="349.47" y2="191.93" stroke="#000" stroke-width="2.5" stroke-linecap="butt"/>
<path d="M351.15,201.08 L345.08,188.47 L349.29,190.95 L352.35,187.13Z" fill="#000"/>
<line x1="444.70" y1="152.30" x2="459.64" y2="199.96" stroke="#000" stroke-width="2.5" stroke-linecap="butt"/>
<path d="M462.42,208.84 L454.85,197.06 L459.34,199.01 L461.91,194.85Z" fill="#000"/>
<line x1="249.00" y1="429.70" x2="240.98" y2="494.16" stroke="#000" stroke-width="2.5" stroke-linecap="butt"/>
<path d="M239.83,503.39 L237.82,489.54 L241.10,493.17 L245.17,490.45Z" fill="#000"/>
<line x1="338.20" y1="429.70" x2="334.85" y2="464.84" stroke="#000" stroke-width="2.5" stroke-linecap="butt"/>
<path d="M333.97,474.09 L331.57,460.30 L334.94,463.84 L338.93,461.01Z" fill="#000"/>
<line x1="441.20" y1="429.70" x2="441.20" y2="495.40" stroke="#000" stroke-width="2.5" stroke-linecap="butt"/>
<path d="M441.20,504.70 L437.50,491.20 L441.20,494.40 L444.90,491.20Z" fill="#000"/>
<text transform="translate(100.00,766.00) scale(1,1.04)" font-family='"Liberation Sans", sans-serif' font-size="28" text-anchor="end">2</text>
<text transform="translate(100.00,1044.20) scale(1,1.04)" font-family='"Liberation Sans", sans-serif' font-size="28" text-anchor="end">2</text>
<text transform="translate(100.00,892.45) scale(1,1.04)" font-family='"Liberation Sans", sans-serif' font-size="28" text-anchor="end">1</text>
<text transform="translate(100.00,1170.65) scale(1,1.04)" font-family='"Liberation Sans", sans-serif' font-size="28" text-anchor="end">1</text>
<rect x="85.97" y="889.78" width="5.29" height="3.98" fill="#fff"/>
<rect x="93.98" y="889.78" width="5.29" height="3.98" fill="#fff"/>
<rect x="85.97" y="1167.98" width="5.29" height="3.98" fill="#fff"/>
<rect x="93.98" y="1167.98" width="5.29" height="3.98" fill="#fff"/>
<text transform="translate(100.00,1018.91) scale(1,1.04)" font-family='"Liberation Sans", sans-serif' font-size="28" text-anchor="end">0</text>
<text transform="translate(100.00,1297.11) scale(1,1.04)" font-family='"Liberation Sans", sans-serif' font-size="28" text-anchor="end">0</text>
<text transform="translate(88.90,1346.60) scale(1,1.04)" font-family='"Liberation Sans", sans-serif' font-size="28" text-anchor="start">10</text>
<rect x="90.44" y="1343.92" width="5.29" height="3.98" fill="#fff"/>
<rect x="98.45" y="1343.92" width="5.29" height="3.98" fill="#fff"/>
<text transform="translate(121.80,1333.20) scale(1,1.04)" font-family='"Liberation Sans", sans-serif' font-size="17" text-anchor="start">0</text>
<text transform="translate(199.34,1346.60) scale(1,1.04)" font-family='"Liberation Sans", sans-serif' font-size="28" text-anchor="start">10</text>
<rect x="200.88" y="1343.92" width="5.29" height="3.98" fill="#fff"/>
<rect x="208.89" y="1343.92" width="5.29" height="3.98" fill="#fff"/>
<text transform="translate(231.64,1333.20) scale(1,1.04)" font-family='"Liberation Sans", sans-serif' font-size="17" text-anchor="start">1</text>
<rect x="232.57" y="1331.57" width="3.21" height="2.93" fill="#fff"/>
<rect x="237.44" y="1331.57" width="3.21" height="2.93" fill="#fff"/>
<text transform="translate(309.78,1346.60) scale(1,1.04)" font-family='"Liberation Sans", sans-serif' font-size="28" text-anchor="start">10</text>
<rect x="311.32" y="1343.92" width="5.29" height="3.98" fill="#fff"/>
<rect x="319.33" y="1343.92" width="5.29" height="3.98" fill="#fff"/>
<text transform="translate(342.48,1333.20) scale(1,1.04)" font-family='"Liberation Sans", sans-serif' font-size="17" text-anchor="start">2</text>
<text transform="translate(420.22,1346.60) scale(1,1.04)" font-family='"Liberation Sans", sans-serif' font-size="28" text-anchor="start">10</text>
<rect x="421.76" y="1343.92" width="5.29" height="3.98" fill="#fff"/>
<rect x="429.77" y="1343.92" width="5.29" height="3.98" fill="#fff"/>
<text transform="translate(453.12,1333.20) scale(1,1.04)" font-family='"Liberation Sans", sans-serif' font-size="17" text-anchor="start">3</text>
<text transform="translate(530.66,1346.60) scale(1,1.04)" font-family='"Liberation Sans", sans-serif' font-size="28" text-anchor="start">10</text>
<rect x="532.20" y="1343.92" width="5.29" height="3.98" fill="#fff"/>
<rect x="540.21" y="1343.92" width="5.29" height="3.98" fill="#fff"/>
<text transform="translate(563.86,1333.20) scale(1,1.04)" font-family='"Liberation Sans", sans-serif' font-size="17" text-anchor="start">4</text>
<text transform="translate(641.10,1346.60) scale(1,1.04)" font-family='"Liberation Sans", sans-serif' font-size="28" text-anchor="start">10</text>
<rect x="642.64" y="1343.92" width="5.29" height="3.98" fill="#fff"/>
<rect x="650.65" y="1343.92" width="5.29" height="3.98" fill="#fff"/>
<text transform="translate(674.00,1333.20) scale(1,1.04)" font-family='"Liberation Sans", sans-serif' font-size="17" text-anchor="start">5</text>
<text transform="translate(111.89,747.00) scale(1,1.04)" font-family='"Liberation Sans", sans-serif' font-size="28" text-anchor="start">10</text>
<rect x="113.43" y="744.32" width="5.29" height="3.98" fill="#fff"/>
<rect x="121.44" y="744.32" width="5.29" height="3.98" fill="#fff"/>
<text transform="translate(141.89,735.60) scale(1,1.04)" font-family='"Liberation Sans", sans-serif' font-size="18" text-anchor="start">-1</text>
<rect x="148.87" y="733.88" width="3.40" height="3.02" fill="#fff"/>
<rect x="154.02" y="733.88" width="3.40" height="3.02" fill="#fff"/>
<text transform="translate(222.33,747.00) scale(1,1.04)" font-family='"Liberation Sans", sans-serif' font-size="28" text-anchor="start">10</text>
<rect x="223.87" y="744.32" width="5.29" height="3.98" fill="#fff"/>
<rect x="231.88" y="744.32" width="5.29" height="3.98" fill="#fff"/>
<text transform="translate(252.33,735.60) scale(1,1.04)" font-family='"Liberation Sans", sans-serif' font-size="18" text-anchor="start">-2</text>
<text transform="translate(332.77,747.00) scale(1,1.04)" font-family='"Liberation Sans", sans-serif' font-size="28" text-anchor="start">10</text>
<rect x="334.31" y="744.32" width="5.29" height="3.98" fill="#fff"/>
<rect x="342.32" y="744.32" width="5.29" height="3.98" fill="#fff"/>
<text transform="translate(362.77,735.60) scale(1,1.04)" font-family='"Liberation Sans", sans-serif' font-size="18" text-anchor="start">-3</text>
<text transform="translate(443.21,747.00) scale(1,1.04)" font-family='"Liberation Sans", sans-serif' font-size="28" text-anchor="start">10</text>
<rect x="444.75" y="744.32" width="5.29" height="3.98" fill="#fff"/>
<rect x="452.76" y="744.32" width="5.29" height="3.98" fill="#fff"/>
<text transform="translate(473.21,735.60) scale(1,1.04)" font-family='"Liberation Sans", sans-serif' font-size="18" text-anchor="start">-4</text>
<text transform="translate(553.65,747.00) scale(1,1.04)" font-family='"Liberation Sans", sans-serif' font-size="28" text-anchor="start">10</text>
<rect x="555.19" y="744.32" width="5.29" height="3.98" fill="#fff"/>
<rect x="563.20" y="744.32" width="5.29" height="3.98" fill="#fff"/>
<text transform="translate(583.65,735.60) scale(1,1.04)" font-family='"Liberation Sans", sans-serif' font-size="18" text-anchor="start">-5</text>
<text transform="translate(241.70,705.00) scale(1,1.04)" font-family='"Liberation Sans", sans-serif' font-size="28" text-anchor="start">Relaxation Time,</text>
<text transform="translate(466.70,705.00) scale(1,1.0)" font-family='"Liberation Serif", serif' font-size="31" text-anchor="start" font-style="italic">τ</text>
<text transform="translate(483.00,705.00) scale(1,1.04)" font-family='"Liberation Sans", sans-serif' font-size="28" text-anchor="start">/</text>
<text transform="translate(498.60,705.00) scale(1,1.04)" font-family='"Liberation Sans", sans-serif' font-size="28" text-anchor="start">s</text>
<text transform="translate(270.00,1386.30) scale(1,1.04)" font-family='"Liberation Sans", sans-serif' font-size="28.5" text-anchor="start">Frequency,</text>
<text transform="translate(415.4,1387.6) scale(1.25,1.06)" font-family='"Liberation Serif", serif' font-size="28" font-style="italic">f</text>
<text transform="translate(434.80,1386.30) scale(1,1.04)" font-family='"Liberation Sans", sans-serif' font-size="31" text-anchor="start">/</text>
<text transform="translate(448.50,1386.30) scale(1,1.04)" font-family='"Liberation Sans", sans-serif' font-size="30" text-anchor="start">Hz</text>
<g transform="translate(32.3,1155) rotate(-90)">
<text transform="translate(-2.40,0.00) scale(1,1.04)" font-family='"Liberation Sans", sans-serif' font-size="29" text-anchor="start">DRT,</text>
<text transform="translate(71.80,0.00) scale(1,1.0)" font-family='"Liberation Serif", serif' font-size="29" text-anchor="start" font-style="italic">g</text>
<text transform="translate(88.00,0.00) scale(1,1.0)" font-family='"Liberation Serif", serif' font-size="29" text-anchor="start" font-style="italic">(f)</text>
<text transform="translate(121.20,0.00) scale(1,1.04)" font-family='"Liberation Sans", sans-serif' font-size="29" text-anchor="start">/</text>
<text transform="translate(136.40,0.30) scale(1,1.0)" font-family='"Liberation Serif", serif' font-size="30" text-anchor="start">Ω</text>
<text transform="translate(165.40,0.00) scale(1,1.04)" font-family='"Liberation Sans", sans-serif' font-size="29" text-anchor="start">cm</text>
<text transform="translate(203.80,-12.80) scale(1,1.04)" font-family='"Liberation Sans", sans-serif' font-size="19" text-anchor="start">2</text>
<text transform="translate(224.00,0.00) scale(1,1.04)" font-family='"Liberation Sans", sans-serif' font-size="29" text-anchor="start">s</text>
</g>
<text transform="translate(126.00,798.90) scale(1,1.04)" font-family='"Liberation Sans", sans-serif' font-size="28.6" text-anchor="start">(c) BCFZY</text>
<text transform="translate(126.40,1076.40) scale(1,1.04)" font-family='"Liberation Sans", sans-serif' font-size="28.3" text-anchor="start">(d) BCFMY</text>
<text transform="translate(549.60,798.30) scale(1,1.04)" font-family='"Liberation Sans", sans-serif' font-size="28.5" text-anchor="start">600</text>
<text transform="translate(595.40,787.20) scale(1,1.04)" font-family='"Liberation Sans", sans-serif' font-size="19" text-anchor="start">o</text>
<text transform="translate(606.10,798.30) scale(1,1.04)" font-family='"Liberation Sans", sans-serif' font-size="28.5" text-anchor="start">C</text>
<line x1="489.40" y1="817.30" x2="535.20" y2="817.30" stroke="#000" stroke-width="2.1" stroke-linecap="butt"/>
<text transform="translate(541.00,825.50) scale(1,1.04)" font-family='"Liberation Sans", sans-serif' font-size="22" text-anchor="start">10 %O<tspan dx="-0.5" dy="4.6" font-size="15.5">2</tspan></text>
<rect x="542.21" y="823.40" width="4.16" height="3.40" fill="#fff"/>
<rect x="548.50" y="823.40" width="4.16" height="3.40" fill="#fff"/>
<line x1="489.40" y1="839.50" x2="535.20" y2="839.50" stroke="#0000ff" stroke-width="2.1" stroke-linecap="butt"/>
<text transform="translate(541.60,847.70) scale(1,1.04)" font-family='"Liberation Sans", sans-serif' font-size="22" text-anchor="start">21 %O<tspan dx="-0.5" dy="4.6" font-size="15.5">2</tspan></text>
<line x1="489.40" y1="861.70" x2="535.20" y2="861.70" stroke="#40ff00" stroke-width="2.1" stroke-linecap="butt"/>
<text transform="translate(542.20,869.90) scale(1,1.04)" font-family='"Liberation Sans", sans-serif' font-size="22" text-anchor="start">40 %O<tspan dx="-0.5" dy="4.6" font-size="15.5">2</tspan></text>
<line x1="489.40" y1="883.90" x2="535.20" y2="883.90" stroke="#ff180a" stroke-width="2.1" stroke-linecap="butt"/>
<text transform="translate(541.00,892.10) scale(1,1.04)" font-family='"Liberation Sans", sans-serif' font-size="22" text-anchor="start">100 %O<tspan dx="-0.5" dy="4.6" font-size="15.5">2</tspan></text>
<rect x="542.21" y="890.00" width="4.16" height="3.40" fill="#fff"/>
<rect x="548.50" y="890.00" width="4.16" height="3.40" fill="#fff"/>
<text x="171" y="938.1" font-family='"Liberation Serif", serif' font-size="22.5"><tspan font-style="italic">P</tspan><tspan dx="0.5" dy="4.8" font-size="16">5</tspan></text>
<text x="293" y="821.9" font-family='"Liberation Serif", serif' font-size="22.5"><tspan font-style="italic">P</tspan><tspan dx="0.5" dy="4.8" font-size="16">4</tspan></text>
<text x="400" y="821.9" font-family='"Liberation Serif", serif' font-size="22.5"><tspan font-style="italic">P</tspan><tspan dx="0.5" dy="4.8" font-size="16">3</tspan></text>
<text x="496" y="938.1" font-family='"Liberation Serif", serif' font-size="22.5"><tspan font-style="italic">P</tspan><tspan dx="0.5" dy="4.8" font-size="16">2</tspan></text>
<text x="576" y="938.1" font-family='"Liberation Serif", serif' font-size="22.5"><tspan font-style="italic">P</tspan><tspan dx="0.5" dy="4.8" font-size="16">1</tspan></text>
<text x="172" y="1217" font-family='"Liberation Serif", serif' font-size="22.5"><tspan font-style="italic">P</tspan><tspan dx="0.5" dy="4.8" font-size="16">5</tspan></text>
<text x="292.8" y="1162.3" font-family='"Liberation Serif", serif' font-size="22.5"><tspan font-style="italic">P</tspan><tspan dx="0.5" dy="4.8" font-size="16">4</tspan></text>
<text x="401" y="1099.9" font-family='"Liberation Serif", serif' font-size="22.5"><tspan font-style="italic">P</tspan><tspan dx="0.5" dy="4.8" font-size="16">3</tspan></text>
<text x="496" y="1217" font-family='"Liberation Serif", serif' font-size="22.5"><tspan font-style="italic">P</tspan><tspan dx="0.5" dy="4.8" font-size="16">2</tspan></text>
<text x="576" y="1217" font-family='"Liberation Serif", serif' font-size="22.5"><tspan font-style="italic">P</tspan><tspan dx="0.5" dy="4.8" font-size="16">1</tspan></text>
<circle cx="197.0" cy="288.0" r="3.60" fill="none" stroke="#000" stroke-width="1.95"/>
<circle cx="197.7" cy="287.1" r="3.60" fill="none" stroke="#000" stroke-width="1.95"/>
<circle cx="198.3" cy="286.2" r="3.60" fill="none" stroke="#000" stroke-width="1.95"/>
<circle cx="199.0" cy="285.3" r="3.60" fill="none" stroke="#000" stroke-width="1.95"/>
<circle cx="199.7" cy="284.4" r="3.60" fill="none" stroke="#000" stroke-width="1.95"/>
<circle cx="200.3" cy="283.6" r="3.60" fill="none" stroke="#000" stroke-width="1.95"/>
<circle cx="201.0" cy="282.7" r="3.60" fill="none" stroke="#000" stroke-width="1.95"/>
<circle cx="201.7" cy="281.8" r="3.60" fill="none" stroke="#000" stroke-width="1.95"/>
<circle cx="202.3" cy="280.9" r="3.60" fill="none" stroke="#000" stroke-width="1.95"/>
<circle cx="203.0" cy="280.0" r="3.60" fill="none" stroke="#000" stroke-width="1.95"/>
<circle cx="208.0" cy="273.0" r="3.60" fill="none" stroke="#000" stroke-width="1.95"/>
<circle cx="214.5" cy="267.0" r="3.60" fill="none" stroke="#000" stroke-width="1.95"/>
<circle cx="221.3" cy="261.5" r="3.60" fill="none" stroke="#000" stroke-width="1.95"/>
<circle cx="228.0" cy="256.3" r="3.60" fill="none" stroke="#000" stroke-width="1.95"/>
<circle cx="234.4" cy="251.5" r="3.60" fill="none" stroke="#000" stroke-width="1.95"/>
<circle cx="241.0" cy="247.0" r="3.60" fill="none" stroke="#000" stroke-width="1.95"/>
<circle cx="247.6" cy="242.5" r="3.60" fill="none" stroke="#000" stroke-width="1.95"/>
<circle cx="255.0" cy="237.5" r="3.60" fill="none" stroke="#000" stroke-width="1.95"/>
<circle cx="266.0" cy="230.0" r="3.60" fill="none" stroke="#000" stroke-width="1.95"/>
<circle cx="277.3" cy="223.0" r="3.60" fill="none" stroke="#000" stroke-width="1.95"/>
<circle cx="287.8" cy="219.0" r="3.60" fill="none" stroke="#000" stroke-width="1.95"/>
<circle cx="300.6" cy="214.8" r="3.60" fill="none" stroke="#000" stroke-width="1.95"/>
<circle cx="312.8" cy="211.4" r="3.60" fill="none" stroke="#000" stroke-width="1.95"/>
<circle cx="326.0" cy="208.8" r="3.60" fill="none" stroke="#000" stroke-width="1.95"/>
<circle cx="338.2" cy="207.0" r="3.60" fill="none" stroke="#000" stroke-width="1.95"/>
<circle cx="353.2" cy="206.0" r="3.60" fill="none" stroke="#000" stroke-width="1.95"/>
<circle cx="366.3" cy="206.0" r="3.60" fill="none" stroke="#000" stroke-width="1.95"/>
<circle cx="379.4" cy="206.8" r="3.60" fill="none" stroke="#000" stroke-width="1.95"/>
<circle cx="392.3" cy="207.4" r="3.60" fill="none" stroke="#000" stroke-width="1.95"/>
<circle cx="404.2" cy="208.6" r="3.60" fill="none" stroke="#000" stroke-width="1.95"/>
<circle cx="416.3" cy="209.3" r="3.60" fill="none" stroke="#000" stroke-width="1.95"/>
<circle cx="427.8" cy="208.6" r="3.60" fill="none" stroke="#000" stroke-width="1.95"/>
<circle cx="441.6" cy="211.3" r="3.60" fill="none" stroke="#000" stroke-width="1.95"/>
<circle cx="455.0" cy="212.0" r="3.60" fill="none" stroke="#000" stroke-width="1.95"/>
<circle cx="467.4" cy="215.1" r="3.60" fill="none" stroke="#000" stroke-width="1.95"/>
<circle cx="480.5" cy="218.6" r="3.60" fill="none" stroke="#000" stroke-width="1.95"/>
<circle cx="492.1" cy="223.9" r="3.60" fill="none" stroke="#000" stroke-width="1.95"/>
<circle cx="501.7" cy="229.6" r="3.60" fill="none" stroke="#000" stroke-width="1.95"/>
<circle cx="510.5" cy="236.2" r="3.60" fill="none" stroke="#000" stroke-width="1.95"/>
<circle cx="517.7" cy="242.1" r="3.60" fill="none" stroke="#000" stroke-width="1.95"/>
<circle cx="523.6" cy="247.6" r="3.60" fill="none" stroke="#000" stroke-width="1.95"/>
<circle cx="528.7" cy="252.4" r="3.60" fill="none" stroke="#000" stroke-width="1.95"/>
<circle cx="531.5" cy="256.5" r="3.60" fill="none" stroke="#000" stroke-width="1.95"/>
<circle cx="534.2" cy="260.5" r="3.60" fill="none" stroke="#000" stroke-width="1.95"/>
<circle cx="536.8" cy="264.2" r="3.60" fill="none" stroke="#000" stroke-width="1.95"/>
<circle cx="539.4" cy="268.0" r="3.60" fill="none" stroke="#000" stroke-width="1.95"/>
<circle cx="542.0" cy="271.6" r="3.60" fill="none" stroke="#000" stroke-width="1.95"/>
<circle cx="544.5" cy="275.0" r="3.60" fill="none" stroke="#000" stroke-width="1.95"/>
<circle cx="547.0" cy="278.5" r="3.60" fill="none" stroke="#000" stroke-width="1.95"/>
<circle cx="549.3" cy="281.3" r="3.60" fill="none" stroke="#000" stroke-width="1.95"/>
<circle cx="550.1" cy="282.0" r="3.60" fill="none" stroke="#000" stroke-width="1.95"/>
<circle cx="550.9" cy="282.6" r="3.60" fill="none" stroke="#000" stroke-width="1.95"/>
<circle cx="551.7" cy="283.3" r="3.60" fill="none" stroke="#000" stroke-width="1.95"/>
<circle cx="552.5" cy="284.0" r="3.60" fill="none" stroke="#000" stroke-width="1.95"/>
<circle cx="553.5" cy="284.0" r="3.60" fill="none" stroke="#000" stroke-width="1.95"/>
<circle cx="554.5" cy="284.0" r="3.60" fill="none" stroke="#000" stroke-width="1.95"/>
<circle cx="555.5" cy="284.0" r="3.60" fill="none" stroke="#000" stroke-width="1.95"/>
<circle cx="556.5" cy="284.0" r="3.60" fill="none" stroke="#000" stroke-width="1.95"/>
<circle cx="555.5" cy="284.8" r="3.60" fill="none" stroke="#000" stroke-width="1.95"/>
<circle cx="554.5" cy="285.5" r="3.60" fill="none" stroke="#000" stroke-width="1.95"/>
<circle cx="553.5" cy="286.2" r="3.60" fill="none" stroke="#000" stroke-width="1.95"/>
<circle cx="552.5" cy="287.0" r="3.60" fill="none" stroke="#000" stroke-width="1.95"/>
<path d="M177.0,274.9 L181.2,282.3 L172.8,282.3Z" fill="none" stroke="#0000ff" stroke-width="1.80" stroke-linejoin="miter"/>
<path d="M179.6,274.5 L183.8,281.9 L175.4,281.9Z" fill="none" stroke="#0000ff" stroke-width="1.80" stroke-linejoin="miter"/>
<path d="M182.2,274.1 L186.4,281.5 L178.0,281.5Z" fill="none" stroke="#0000ff" stroke-width="1.80" stroke-linejoin="miter"/>
<path d="M184.8,273.7 L189.0,281.1 L180.6,281.1Z" fill="none" stroke="#0000ff" stroke-width="1.80" stroke-linejoin="miter"/>
<path d="M187.4,273.3 L191.6,280.7 L183.2,280.7Z" fill="none" stroke="#0000ff" stroke-width="1.80" stroke-linejoin="miter"/>
<path d="M190.0,272.9 L194.2,280.3 L185.8,280.3Z" fill="none" stroke="#0000ff" stroke-width="1.80" stroke-linejoin="miter"/>
<path d="M193.4,271.2 L197.6,278.5 L189.3,278.5Z" fill="none" stroke="#0000ff" stroke-width="1.80" stroke-linejoin="miter"/>
<path d="M196.9,269.4 L201.1,276.8 L192.7,276.8Z" fill="none" stroke="#0000ff" stroke-width="1.80" stroke-linejoin="miter"/>
<path d="M200.4,267.7 L204.5,275.0 L196.2,275.0Z" fill="none" stroke="#0000ff" stroke-width="1.80" stroke-linejoin="miter"/>
<path d="M203.8,265.9 L208.0,273.3 L199.6,273.3Z" fill="none" stroke="#0000ff" stroke-width="1.80" stroke-linejoin="miter"/>
<path d="M206.9,264.2 L211.0,271.6 L202.7,271.6Z" fill="none" stroke="#0000ff" stroke-width="1.80" stroke-linejoin="miter"/>
<path d="M209.9,262.6 L214.1,269.9 L205.8,269.9Z" fill="none" stroke="#0000ff" stroke-width="1.80" stroke-linejoin="miter"/>
<path d="M213.0,260.9 L217.2,268.3 L208.8,268.3Z" fill="none" stroke="#0000ff" stroke-width="1.80" stroke-linejoin="miter"/>
<path d="M217.2,258.2 L221.3,265.5 L213.0,265.5Z" fill="none" stroke="#0000ff" stroke-width="1.80" stroke-linejoin="miter"/>
<path d="M221.3,255.4 L225.5,262.8 L217.1,262.8Z" fill="none" stroke="#0000ff" stroke-width="1.80" stroke-linejoin="miter"/>
<path d="M228.0,250.4 L232.2,257.8 L223.8,257.8Z" fill="none" stroke="#0000ff" stroke-width="1.80" stroke-linejoin="miter"/>
<path d="M234.4,245.9 L238.6,253.3 L230.2,253.3Z" fill="none" stroke="#0000ff" stroke-width="1.80" stroke-linejoin="miter"/>
<path d="M241.0,241.4 L245.2,248.8 L236.8,248.8Z" fill="none" stroke="#0000ff" stroke-width="1.80" stroke-linejoin="miter"/>
<path d="M247.6,236.9 L251.8,244.3 L243.4,244.3Z" fill="none" stroke="#0000ff" stroke-width="1.80" stroke-linejoin="miter"/>
<path d="M257.5,228.9 L261.7,236.3 L253.3,236.3Z" fill="none" stroke="#0000ff" stroke-width="1.80" stroke-linejoin="miter"/>
<path d="M268.5,221.4 L272.7,228.8 L264.3,228.8Z" fill="none" stroke="#0000ff" stroke-width="1.80" stroke-linejoin="miter"/>
<path d="M278.5,217.4 L282.7,224.8 L274.3,224.8Z" fill="none" stroke="#0000ff" stroke-width="1.80" stroke-linejoin="miter"/>
<path d="M289.2,214.7 L293.4,222.1 L285.0,222.1Z" fill="none" stroke="#0000ff" stroke-width="1.80" stroke-linejoin="miter"/>
<path d="M301.0,211.9 L305.2,219.3 L296.8,219.3Z" fill="none" stroke="#0000ff" stroke-width="1.80" stroke-linejoin="miter"/>
<path d="M313.3,210.2 L317.5,217.6 L309.1,217.6Z" fill="none" stroke="#0000ff" stroke-width="1.80" stroke-linejoin="miter"/>
<path d="M326.0,210.1 L330.2,217.5 L321.8,217.5Z" fill="none" stroke="#0000ff" stroke-width="1.80" stroke-linejoin="miter"/>
<path d="M338.5,210.3 L342.7,217.7 L334.3,217.7Z" fill="none" stroke="#0000ff" stroke-width="1.80" stroke-linejoin="miter"/>
<path d="M350.9,211.3 L355.1,218.7 L346.7,218.7Z" fill="none" stroke="#0000ff" stroke-width="1.80" stroke-linejoin="miter"/>
<path d="M361.6,212.0 L365.8,219.4 L357.4,219.4Z" fill="none" stroke="#0000ff" stroke-width="1.80" stroke-linejoin="miter"/>
<path d="M373.2,213.3 L377.4,220.7 L369.0,220.7Z" fill="none" stroke="#0000ff" stroke-width="1.80" stroke-linejoin="miter"/>
<path d="M383.1,213.8 L387.3,221.2 L378.9,221.2Z" fill="none" stroke="#0000ff" stroke-width="1.80" stroke-linejoin="miter"/>
<path d="M393.8,214.5 L398.0,221.9 L389.6,221.9Z" fill="none" stroke="#0000ff" stroke-width="1.80" stroke-linejoin="miter"/>
<path d="M402.8,217.0 L407.0,224.4 L398.6,224.4Z" fill="none" stroke="#0000ff" stroke-width="1.80" stroke-linejoin="miter"/>
<path d="M415.4,217.7 L419.6,225.1 L411.2,225.1Z" fill="none" stroke="#0000ff" stroke-width="1.80" stroke-linejoin="miter"/>
<path d="M427.1,219.5 L431.3,226.9 L422.9,226.9Z" fill="none" stroke="#0000ff" stroke-width="1.80" stroke-linejoin="miter"/>
<path d="M437.5,224.4 L441.7,231.8 L433.3,231.8Z" fill="none" stroke="#0000ff" stroke-width="1.80" stroke-linejoin="miter"/>
<path d="M448.4,226.9 L452.6,234.3 L444.2,234.3Z" fill="none" stroke="#0000ff" stroke-width="1.80" stroke-linejoin="miter"/>
<path d="M457.5,230.3 L461.7,237.7 L453.3,237.7Z" fill="none" stroke="#0000ff" stroke-width="1.80" stroke-linejoin="miter"/>
<path d="M466.3,234.7 L470.5,242.1 L462.1,242.1Z" fill="none" stroke="#0000ff" stroke-width="1.80" stroke-linejoin="miter"/>
<path d="M470.7,242.4 L474.9,249.8 L466.5,249.8Z" fill="none" stroke="#0000ff" stroke-width="1.80" stroke-linejoin="miter"/>
<path d="M479.0,245.6 L483.2,253.0 L474.8,253.0Z" fill="none" stroke="#0000ff" stroke-width="1.80" stroke-linejoin="miter"/>
<path d="M489.3,246.7 L493.5,254.1 L485.1,254.1Z" fill="none" stroke="#0000ff" stroke-width="1.80" stroke-linejoin="miter"/>
<path d="M490.4,256.6 L494.6,264.0 L486.2,264.0Z" fill="none" stroke="#0000ff" stroke-width="1.80" stroke-linejoin="miter"/>
<path d="M492.6,260.9 L496.8,268.3 L488.4,268.3Z" fill="none" stroke="#0000ff" stroke-width="1.80" stroke-linejoin="miter"/>
<path d="M495.8,266.4 L500.0,273.8 L491.6,273.8Z" fill="none" stroke="#0000ff" stroke-width="1.80" stroke-linejoin="miter"/>
<path d="M497.5,268.6 L501.6,276.0 L493.3,276.0Z" fill="none" stroke="#0000ff" stroke-width="1.80" stroke-linejoin="miter"/>
<path d="M499.1,270.8 L503.3,278.2 L494.9,278.2Z" fill="none" stroke="#0000ff" stroke-width="1.80" stroke-linejoin="miter"/>
<path d="M500.8,272.9 L505.0,280.2 L496.6,280.2Z" fill="none" stroke="#0000ff" stroke-width="1.80" stroke-linejoin="miter"/>
<path d="M502.5,274.9 L506.7,282.3 L498.3,282.3Z" fill="none" stroke="#0000ff" stroke-width="1.80" stroke-linejoin="miter"/>
<path d="M504.2,276.5 L508.4,283.9 L500.1,283.9Z" fill="none" stroke="#0000ff" stroke-width="1.80" stroke-linejoin="miter"/>
<path d="M506.0,278.1 L510.2,285.5 L501.8,285.5Z" fill="none" stroke="#0000ff" stroke-width="1.80" stroke-linejoin="miter"/>
<path d="M507.5,279.4 L511.7,286.8 L503.3,286.8Z" fill="none" stroke="#0000ff" stroke-width="1.80" stroke-linejoin="miter"/>
<path d="M509.0,280.7 L513.2,288.1 L504.8,288.1Z" fill="none" stroke="#0000ff" stroke-width="1.80" stroke-linejoin="miter"/>
<path d="M509.7,281.3 L513.8,288.6 L505.5,288.6Z" fill="none" stroke="#0000ff" stroke-width="1.80" stroke-linejoin="miter"/>
<path d="M510.3,281.8 L514.5,289.2 L506.2,289.2Z" fill="none" stroke="#0000ff" stroke-width="1.80" stroke-linejoin="miter"/>
<path d="M511.0,282.4 L515.2,289.8 L506.8,289.8Z" fill="none" stroke="#0000ff" stroke-width="1.80" stroke-linejoin="miter"/>
<rect x="166.1" y="275.1" width="7.9" height="7.9" fill="none" stroke="#40ff00" stroke-width="2.0"/>
<rect x="168.5" y="274.6" width="7.9" height="7.9" fill="none" stroke="#40ff00" stroke-width="2.0"/>
<rect x="170.9" y="274.1" width="7.9" height="7.9" fill="none" stroke="#40ff00" stroke-width="2.0"/>
<rect x="173.2" y="273.6" width="7.9" height="7.9" fill="none" stroke="#40ff00" stroke-width="2.0"/>
<rect x="175.7" y="273.1" width="7.9" height="7.9" fill="none" stroke="#40ff00" stroke-width="2.0"/>
<rect x="178.1" y="272.6" width="7.9" height="7.9" fill="none" stroke="#40ff00" stroke-width="2.0"/>
<rect x="181.3" y="271.2" width="7.9" height="7.9" fill="none" stroke="#40ff00" stroke-width="2.0"/>
<rect x="184.6" y="269.8" width="7.9" height="7.9" fill="none" stroke="#40ff00" stroke-width="2.0"/>
<rect x="187.8" y="268.4" width="7.9" height="7.9" fill="none" stroke="#40ff00" stroke-width="2.0"/>
<rect x="191.1" y="267.1" width="7.9" height="7.9" fill="none" stroke="#40ff00" stroke-width="2.0"/>
<rect x="194.4" y="265.2" width="7.9" height="7.9" fill="none" stroke="#40ff00" stroke-width="2.0"/>
<rect x="197.7" y="263.4" width="7.9" height="7.9" fill="none" stroke="#40ff00" stroke-width="2.0"/>
<rect x="201.1" y="261.6" width="7.9" height="7.9" fill="none" stroke="#40ff00" stroke-width="2.0"/>
<rect x="204.8" y="259.3" width="7.9" height="7.9" fill="none" stroke="#40ff00" stroke-width="2.0"/>
<rect x="208.6" y="257.1" width="7.9" height="7.9" fill="none" stroke="#40ff00" stroke-width="2.0"/>
<rect x="217.4" y="252.1" width="7.9" height="7.9" fill="none" stroke="#40ff00" stroke-width="2.0"/>
<rect x="226.1" y="246.6" width="7.9" height="7.9" fill="none" stroke="#40ff00" stroke-width="2.0"/>
<rect x="234.9" y="240.6" width="7.9" height="7.9" fill="none" stroke="#40ff00" stroke-width="2.0"/>
<rect x="243.6" y="234.1" width="7.9" height="7.9" fill="none" stroke="#40ff00" stroke-width="2.0"/>
<rect x="252.9" y="229.1" width="7.9" height="7.9" fill="none" stroke="#40ff00" stroke-width="2.0"/>
<rect x="262.2" y="226.9" width="7.9" height="7.9" fill="none" stroke="#40ff00" stroke-width="2.0"/>
<rect x="272.6" y="222.9" width="7.9" height="7.9" fill="none" stroke="#40ff00" stroke-width="2.0"/>
<rect x="283.1" y="221.1" width="7.9" height="7.9" fill="none" stroke="#40ff00" stroke-width="2.0"/>
<rect x="293.6" y="220.6" width="7.9" height="7.9" fill="none" stroke="#40ff00" stroke-width="2.0"/>
<rect x="304.9" y="220.2" width="7.9" height="7.9" fill="none" stroke="#40ff00" stroke-width="2.0"/>
<rect x="315.9" y="220.4" width="7.9" height="7.9" fill="none" stroke="#40ff00" stroke-width="2.0"/>
<rect x="325.6" y="221.2" width="7.9" height="7.9" fill="none" stroke="#40ff00" stroke-width="2.0"/>
<rect x="334.2" y="222.2" width="7.9" height="7.9" fill="none" stroke="#40ff00" stroke-width="2.0"/>
<rect x="345.2" y="223.4" width="7.9" height="7.9" fill="none" stroke="#40ff00" stroke-width="2.0"/>
<rect x="355.2" y="224.6" width="7.9" height="7.9" fill="none" stroke="#40ff00" stroke-width="2.0"/>
<rect x="364.4" y="225.9" width="7.9" height="7.9" fill="none" stroke="#40ff00" stroke-width="2.0"/>
<rect x="373.4" y="227.1" width="7.9" height="7.9" fill="none" stroke="#40ff00" stroke-width="2.0"/>
<rect x="382.4" y="228.4" width="7.9" height="7.9" fill="none" stroke="#40ff00" stroke-width="2.0"/>
<rect x="390.4" y="230.8" width="7.9" height="7.9" fill="none" stroke="#40ff00" stroke-width="2.0"/>
<rect x="399.1" y="234.6" width="7.9" height="7.9" fill="none" stroke="#40ff00" stroke-width="2.0"/>
<rect x="407.8" y="238.2" width="7.9" height="7.9" fill="none" stroke="#40ff00" stroke-width="2.0"/>
<rect x="416.4" y="242.0" width="7.9" height="7.9" fill="none" stroke="#40ff00" stroke-width="2.0"/>
<rect x="423.9" y="247.0" width="7.9" height="7.9" fill="none" stroke="#40ff00" stroke-width="2.0"/>
<rect x="427.6" y="253.2" width="7.9" height="7.9" fill="none" stroke="#40ff00" stroke-width="2.0"/>
<rect x="433.9" y="249.5" width="7.9" height="7.9" fill="none" stroke="#40ff00" stroke-width="2.0"/>
<rect x="435.1" y="255.2" width="7.9" height="7.9" fill="none" stroke="#40ff00" stroke-width="2.0"/>
<rect x="441.2" y="259.4" width="7.9" height="7.9" fill="none" stroke="#40ff00" stroke-width="2.0"/>
<rect x="442.4" y="264.4" width="7.9" height="7.9" fill="none" stroke="#40ff00" stroke-width="2.0"/>
<rect x="443.7" y="266.2" width="7.9" height="7.9" fill="none" stroke="#40ff00" stroke-width="2.0"/>
<rect x="444.9" y="268.1" width="7.9" height="7.9" fill="none" stroke="#40ff00" stroke-width="2.0"/>
<rect x="446.0" y="269.7" width="7.9" height="7.9" fill="none" stroke="#40ff00" stroke-width="2.0"/>
<rect x="447.0" y="271.4" width="7.9" height="7.9" fill="none" stroke="#40ff00" stroke-width="2.0"/>
<rect x="448.1" y="273.1" width="7.9" height="7.9" fill="none" stroke="#40ff00" stroke-width="2.0"/>
<rect x="449.6" y="274.2" width="7.9" height="7.9" fill="none" stroke="#40ff00" stroke-width="2.0"/>
<rect x="451.1" y="275.4" width="7.9" height="7.9" fill="none" stroke="#40ff00" stroke-width="2.0"/>
<rect x="452.6" y="276.6" width="7.9" height="7.9" fill="none" stroke="#40ff00" stroke-width="2.0"/>
<rect x="453.7" y="277.4" width="7.9" height="7.9" fill="none" stroke="#40ff00" stroke-width="2.0"/>
<rect x="454.9" y="278.2" width="7.9" height="7.9" fill="none" stroke="#40ff00" stroke-width="2.0"/>
<rect x="456.1" y="279.1" width="7.9" height="7.9" fill="none" stroke="#40ff00" stroke-width="2.0"/>
<rect x="457.3" y="279.8" width="7.9" height="7.9" fill="none" stroke="#40ff00" stroke-width="2.0"/>
<rect x="458.6" y="280.6" width="7.9" height="7.9" fill="none" stroke="#40ff00" stroke-width="2.0"/>
<path d="M165.0,286.6 L169.2,279.2 L160.8,279.2Z" fill="none" stroke="#ff180a" stroke-width="1.80" stroke-linejoin="miter"/>
<path d="M168.4,285.2 L172.6,277.8 L164.2,277.8Z" fill="none" stroke="#ff180a" stroke-width="1.80" stroke-linejoin="miter"/>
<path d="M171.8,283.8 L176.0,276.4 L167.6,276.4Z" fill="none" stroke="#ff180a" stroke-width="1.80" stroke-linejoin="miter"/>
<path d="M175.2,282.4 L179.4,275.0 L171.0,275.0Z" fill="none" stroke="#ff180a" stroke-width="1.80" stroke-linejoin="miter"/>
<path d="M178.6,281.0 L182.8,273.6 L174.4,273.6Z" fill="none" stroke="#ff180a" stroke-width="1.80" stroke-linejoin="miter"/>
<path d="M182.0,279.6 L186.2,272.2 L177.8,272.2Z" fill="none" stroke="#ff180a" stroke-width="1.80" stroke-linejoin="miter"/>
<path d="M184.6,277.9 L188.8,270.5 L180.4,270.5Z" fill="none" stroke="#ff180a" stroke-width="1.80" stroke-linejoin="miter"/>
<path d="M187.2,276.2 L191.4,268.8 L183.0,268.8Z" fill="none" stroke="#ff180a" stroke-width="1.80" stroke-linejoin="miter"/>
<path d="M189.8,274.5 L194.0,267.1 L185.6,267.1Z" fill="none" stroke="#ff180a" stroke-width="1.80" stroke-linejoin="miter"/>
<path d="M192.4,272.8 L196.6,265.4 L188.2,265.4Z" fill="none" stroke="#ff180a" stroke-width="1.80" stroke-linejoin="miter"/>
<path d="M195.0,271.1 L199.2,263.7 L190.8,263.7Z" fill="none" stroke="#ff180a" stroke-width="1.80" stroke-linejoin="miter"/>
<path d="M198.3,268.9 L202.5,261.6 L194.2,261.6Z" fill="none" stroke="#ff180a" stroke-width="1.80" stroke-linejoin="miter"/>
<path d="M201.7,266.8 L205.8,259.4 L197.5,259.4Z" fill="none" stroke="#ff180a" stroke-width="1.80" stroke-linejoin="miter"/>
<path d="M205.0,264.6 L209.2,257.2 L200.8,257.2Z" fill="none" stroke="#ff180a" stroke-width="1.80" stroke-linejoin="miter"/>
<path d="M207.8,262.8 L211.9,255.5 L203.6,255.5Z" fill="none" stroke="#ff180a" stroke-width="1.80" stroke-linejoin="miter"/>
<path d="M210.5,261.1 L214.7,253.7 L206.3,253.7Z" fill="none" stroke="#ff180a" stroke-width="1.80" stroke-linejoin="miter"/>
<path d="M216.9,257.6 L221.1,250.2 L212.7,250.2Z" fill="none" stroke="#ff180a" stroke-width="1.80" stroke-linejoin="miter"/>
<path d="M223.9,253.9 L228.1,246.5 L219.7,246.5Z" fill="none" stroke="#ff180a" stroke-width="1.80" stroke-linejoin="miter"/>
<path d="M231.8,249.4 L236.0,242.0 L227.6,242.0Z" fill="none" stroke="#ff180a" stroke-width="1.80" stroke-linejoin="miter"/>
<path d="M242.3,245.4 L246.5,238.0 L238.1,238.0Z" fill="none" stroke="#ff180a" stroke-width="1.80" stroke-linejoin="miter"/>
<path d="M251.6,242.6 L255.8,235.2 L247.4,235.2Z" fill="none" stroke="#ff180a" stroke-width="1.80" stroke-linejoin="miter"/>
<path d="M261.0,240.6 L265.2,233.2 L256.8,233.2Z" fill="none" stroke="#ff180a" stroke-width="1.80" stroke-linejoin="miter"/>
<path d="M270.3,239.9 L274.5,232.5 L266.1,232.5Z" fill="none" stroke="#ff180a" stroke-width="1.80" stroke-linejoin="miter"/>
<path d="M279.6,239.9 L283.8,232.5 L275.4,232.5Z" fill="none" stroke="#ff180a" stroke-width="1.80" stroke-linejoin="miter"/>
<path d="M289.2,240.4 L293.4,233.0 L285.0,233.0Z" fill="none" stroke="#ff180a" stroke-width="1.80" stroke-linejoin="miter"/>
<path d="M298.8,241.2 L303.0,233.8 L294.6,233.8Z" fill="none" stroke="#ff180a" stroke-width="1.80" stroke-linejoin="miter"/>
<path d="M307.2,242.4 L311.4,235.0 L303.0,235.0Z" fill="none" stroke="#ff180a" stroke-width="1.80" stroke-linejoin="miter"/>
<path d="M315.5,244.0 L319.7,236.6 L311.3,236.6Z" fill="none" stroke="#ff180a" stroke-width="1.80" stroke-linejoin="miter"/>
<path d="M323.4,245.3 L327.6,237.9 L319.2,237.9Z" fill="none" stroke="#ff180a" stroke-width="1.80" stroke-linejoin="miter"/>
<path d="M330.8,246.6 L335.0,239.2 L326.6,239.2Z" fill="none" stroke="#ff180a" stroke-width="1.80" stroke-linejoin="miter"/>
<path d="M337.8,247.9 L342.0,240.5 L333.6,240.5Z" fill="none" stroke="#ff180a" stroke-width="1.80" stroke-linejoin="miter"/>
<path d="M344.7,249.3 L348.9,241.9 L340.5,241.9Z" fill="none" stroke="#ff180a" stroke-width="1.80" stroke-linejoin="miter"/>
<path d="M353.4,251.3 L357.6,243.9 L349.2,243.9Z" fill="none" stroke="#ff180a" stroke-width="1.80" stroke-linejoin="miter"/>
<path d="M361.6,253.2 L365.8,245.8 L357.4,245.8Z" fill="none" stroke="#ff180a" stroke-width="1.80" stroke-linejoin="miter"/>
<path d="M367.5,255.0 L371.7,247.6 L363.3,247.6Z" fill="none" stroke="#ff180a" stroke-width="1.80" stroke-linejoin="miter"/>
<path d="M373.2,258.7 L377.4,251.3 L369.0,251.3Z" fill="none" stroke="#ff180a" stroke-width="1.80" stroke-linejoin="miter"/>
<path d="M379.4,261.2 L383.6,253.8 L375.2,253.8Z" fill="none" stroke="#ff180a" stroke-width="1.80" stroke-linejoin="miter"/>
<path d="M384.4,264.9 L388.6,257.5 L380.2,257.5Z" fill="none" stroke="#ff180a" stroke-width="1.80" stroke-linejoin="miter"/>
<path d="M388.1,267.4 L392.3,260.0 L383.9,260.0Z" fill="none" stroke="#ff180a" stroke-width="1.80" stroke-linejoin="miter"/>
<path d="M392.3,266.1 L396.5,258.7 L388.1,258.7Z" fill="none" stroke="#ff180a" stroke-width="1.80" stroke-linejoin="miter"/>
<path d="M389.4,271.1 L393.6,263.7 L385.2,263.7Z" fill="none" stroke="#ff180a" stroke-width="1.80" stroke-linejoin="miter"/>
<path d="M391.9,274.2 L396.0,266.8 L387.7,266.8Z" fill="none" stroke="#ff180a" stroke-width="1.80" stroke-linejoin="miter"/>
<path d="M394.3,277.3 L398.5,269.9 L390.1,269.9Z" fill="none" stroke="#ff180a" stroke-width="1.80" stroke-linejoin="miter"/>
<path d="M395.5,278.5 L399.7,271.2 L391.4,271.2Z" fill="none" stroke="#ff180a" stroke-width="1.80" stroke-linejoin="miter"/>
<path d="M396.8,279.8 L400.9,272.4 L392.6,272.4Z" fill="none" stroke="#ff180a" stroke-width="1.80" stroke-linejoin="miter"/>
<path d="M398.0,281.0 L402.2,273.6 L393.8,273.6Z" fill="none" stroke="#ff180a" stroke-width="1.80" stroke-linejoin="miter"/>
<path d="M399.3,282.3 L403.4,274.9 L395.1,274.9Z" fill="none" stroke="#ff180a" stroke-width="1.80" stroke-linejoin="miter"/>
<path d="M400.5,283.5 L404.7,276.2 L396.4,276.2Z" fill="none" stroke="#ff180a" stroke-width="1.80" stroke-linejoin="miter"/>
<path d="M401.8,284.8 L406.0,277.4 L397.6,277.4Z" fill="none" stroke="#ff180a" stroke-width="1.80" stroke-linejoin="miter"/>
<path d="M403.0,286.0 L407.2,278.7 L398.9,278.7Z" fill="none" stroke="#ff180a" stroke-width="1.80" stroke-linejoin="miter"/>
<path d="M404.3,287.3 L408.4,279.9 L400.1,279.9Z" fill="none" stroke="#ff180a" stroke-width="1.80" stroke-linejoin="miter"/>
<path d="M405.5,288.5 L409.7,281.1 L401.3,281.1Z" fill="none" stroke="#ff180a" stroke-width="1.80" stroke-linejoin="miter"/>
<path d="M406.3,289.7 L410.5,282.4 L402.2,282.4Z" fill="none" stroke="#ff180a" stroke-width="1.80" stroke-linejoin="miter"/>
<path d="M407.2,291.0 L411.3,283.6 L403.0,283.6Z" fill="none" stroke="#ff180a" stroke-width="1.80" stroke-linejoin="miter"/>
<path d="M408.0,292.2 L412.2,284.8 L403.8,284.8Z" fill="none" stroke="#ff180a" stroke-width="1.80" stroke-linejoin="miter"/>
<path d="M406.7,295.1 L410.9,287.7 L402.5,287.7Z" fill="none" stroke="#ff180a" stroke-width="1.80" stroke-linejoin="miter"/>
<circle cx="174.0" cy="557.5" r="3.60" fill="none" stroke="#000" stroke-width="1.95"/>
<circle cx="176.1" cy="556.8" r="3.60" fill="none" stroke="#000" stroke-width="1.95"/>
<circle cx="178.2" cy="556.0" r="3.60" fill="none" stroke="#000" stroke-width="1.95"/>
<circle cx="180.2" cy="555.2" r="3.60" fill="none" stroke="#000" stroke-width="1.95"/>
<circle cx="182.3" cy="554.5" r="3.60" fill="none" stroke="#000" stroke-width="1.95"/>
<circle cx="184.4" cy="553.8" r="3.60" fill="none" stroke="#000" stroke-width="1.95"/>
<circle cx="186.5" cy="553.0" r="3.60" fill="none" stroke="#000" stroke-width="1.95"/>
<circle cx="189.4" cy="551.7" r="3.60" fill="none" stroke="#000" stroke-width="1.95"/>
<circle cx="192.3" cy="550.4" r="3.60" fill="none" stroke="#000" stroke-width="1.95"/>
<circle cx="195.2" cy="549.1" r="3.60" fill="none" stroke="#000" stroke-width="1.95"/>
<circle cx="198.1" cy="547.8" r="3.60" fill="none" stroke="#000" stroke-width="1.95"/>
<circle cx="201.0" cy="546.5" r="3.60" fill="none" stroke="#000" stroke-width="1.95"/>
<circle cx="205.9" cy="543.3" r="3.60" fill="none" stroke="#000" stroke-width="1.95"/>
<circle cx="210.8" cy="540.0" r="3.60" fill="none" stroke="#000" stroke-width="1.95"/>
<circle cx="215.7" cy="536.8" r="3.60" fill="none" stroke="#000" stroke-width="1.95"/>
<circle cx="222.8" cy="531.6" r="3.60" fill="none" stroke="#000" stroke-width="1.95"/>
<circle cx="230.0" cy="526.5" r="3.60" fill="none" stroke="#000" stroke-width="1.95"/>
<circle cx="236.5" cy="519.0" r="3.60" fill="none" stroke="#000" stroke-width="1.95"/>
<circle cx="243.0" cy="512.0" r="3.60" fill="none" stroke="#000" stroke-width="1.95"/>
<circle cx="251.1" cy="507.0" r="3.60" fill="none" stroke="#000" stroke-width="1.95"/>
<circle cx="260.6" cy="502.6" r="3.60" fill="none" stroke="#000" stroke-width="1.95"/>
<circle cx="270.8" cy="498.2" r="3.60" fill="none" stroke="#000" stroke-width="1.95"/>
<circle cx="281.8" cy="493.9" r="3.60" fill="none" stroke="#000" stroke-width="1.95"/>
<circle cx="294.2" cy="490.0" r="3.60" fill="none" stroke="#000" stroke-width="1.95"/>
<circle cx="307.0" cy="485.7" r="3.60" fill="none" stroke="#000" stroke-width="1.95"/>
<circle cx="321.5" cy="483.4" r="3.60" fill="none" stroke="#000" stroke-width="1.95"/>
<circle cx="336.9" cy="481.9" r="3.60" fill="none" stroke="#000" stroke-width="1.95"/>
<circle cx="351.5" cy="482.8" r="3.60" fill="none" stroke="#000" stroke-width="1.95"/>
<circle cx="366.1" cy="485.7" r="3.60" fill="none" stroke="#000" stroke-width="1.95"/>
<circle cx="379.9" cy="487.7" r="3.60" fill="none" stroke="#000" stroke-width="1.95"/>
<circle cx="392.0" cy="492.1" r="3.60" fill="none" stroke="#000" stroke-width="1.95"/>
<circle cx="403.9" cy="495.8" r="3.60" fill="none" stroke="#000" stroke-width="1.95"/>
<circle cx="414.0" cy="500.1" r="3.60" fill="none" stroke="#000" stroke-width="1.95"/>
<circle cx="424.2" cy="504.5" r="3.60" fill="none" stroke="#000" stroke-width="1.95"/>
<circle cx="432.9" cy="508.9" r="3.60" fill="none" stroke="#000" stroke-width="1.95"/>
<circle cx="441.2" cy="515.9" r="3.60" fill="none" stroke="#000" stroke-width="1.95"/>
<circle cx="448.7" cy="518.5" r="3.60" fill="none" stroke="#000" stroke-width="1.95"/>
<circle cx="455.7" cy="521.2" r="3.60" fill="none" stroke="#000" stroke-width="1.95"/>
<circle cx="460.4" cy="529.1" r="3.60" fill="none" stroke="#000" stroke-width="1.95"/>
<circle cx="466.6" cy="530.8" r="3.60" fill="none" stroke="#000" stroke-width="1.95"/>
<circle cx="471.8" cy="534.3" r="3.60" fill="none" stroke="#000" stroke-width="1.95"/>
<circle cx="473.6" cy="536.9" r="3.60" fill="none" stroke="#000" stroke-width="1.95"/>
<circle cx="479.7" cy="540.4" r="3.60" fill="none" stroke="#000" stroke-width="1.95"/>
<circle cx="481.5" cy="543.9" r="3.60" fill="none" stroke="#000" stroke-width="1.95"/>
<circle cx="485.8" cy="546.6" r="3.60" fill="none" stroke="#000" stroke-width="1.95"/>
<circle cx="494.6" cy="549.2" r="3.60" fill="none" stroke="#000" stroke-width="1.95"/>
<circle cx="487.6" cy="551.8" r="3.60" fill="none" stroke="#000" stroke-width="1.95"/>
<circle cx="491.1" cy="555.3" r="3.60" fill="none" stroke="#000" stroke-width="1.95"/>
<circle cx="494.6" cy="558.0" r="3.60" fill="none" stroke="#000" stroke-width="1.95"/>
<circle cx="495.7" cy="558.4" r="3.60" fill="none" stroke="#000" stroke-width="1.95"/>
<circle cx="496.8" cy="558.9" r="3.60" fill="none" stroke="#000" stroke-width="1.95"/>
<circle cx="497.9" cy="559.3" r="3.60" fill="none" stroke="#000" stroke-width="1.95"/>
<circle cx="499.1" cy="559.8" r="3.60" fill="none" stroke="#000" stroke-width="1.95"/>
<circle cx="500.2" cy="560.2" r="3.60" fill="none" stroke="#000" stroke-width="1.95"/>
<circle cx="501.3" cy="560.6" r="3.60" fill="none" stroke="#000" stroke-width="1.95"/>
<circle cx="502.4" cy="561.1" r="3.60" fill="none" stroke="#000" stroke-width="1.95"/>
<circle cx="503.5" cy="561.5" r="3.60" fill="none" stroke="#000" stroke-width="1.95"/>
<circle cx="504.2" cy="561.7" r="3.60" fill="none" stroke="#000" stroke-width="1.95"/>
<circle cx="504.8" cy="561.8" r="3.60" fill="none" stroke="#000" stroke-width="1.95"/>
<circle cx="505.5" cy="562.0" r="3.60" fill="none" stroke="#000" stroke-width="1.95"/>
<circle cx="506.2" cy="562.2" r="3.60" fill="none" stroke="#000" stroke-width="1.95"/>
<circle cx="506.8" cy="562.3" r="3.60" fill="none" stroke="#000" stroke-width="1.95"/>
<circle cx="507.5" cy="562.5" r="3.60" fill="none" stroke="#000" stroke-width="1.95"/>
<path d="M172.0,551.9 L176.2,559.3 L167.8,559.3Z" fill="none" stroke="#0000ff" stroke-width="1.80" stroke-linejoin="miter"/>
<path d="M174.4,551.2 L178.6,558.6 L170.2,558.6Z" fill="none" stroke="#0000ff" stroke-width="1.80" stroke-linejoin="miter"/>
<path d="M176.8,550.5 L181.0,557.8 L172.7,557.8Z" fill="none" stroke="#0000ff" stroke-width="1.80" stroke-linejoin="miter"/>
<path d="M179.2,549.8 L183.4,557.1 L175.1,557.1Z" fill="none" stroke="#0000ff" stroke-width="1.80" stroke-linejoin="miter"/>
<path d="M181.7,549.0 L185.8,556.4 L177.5,556.4Z" fill="none" stroke="#0000ff" stroke-width="1.80" stroke-linejoin="miter"/>
<path d="M184.1,548.3 L188.3,555.7 L179.9,555.7Z" fill="none" stroke="#0000ff" stroke-width="1.80" stroke-linejoin="miter"/>
<path d="M186.5,547.6 L190.7,555.0 L182.3,555.0Z" fill="none" stroke="#0000ff" stroke-width="1.80" stroke-linejoin="miter"/>
<path d="M189.4,546.3 L193.6,553.6 L185.2,553.6Z" fill="none" stroke="#0000ff" stroke-width="1.80" stroke-linejoin="miter"/>
<path d="M192.3,544.9 L196.5,552.3 L188.1,552.3Z" fill="none" stroke="#0000ff" stroke-width="1.80" stroke-linejoin="miter"/>
<path d="M195.2,543.6 L199.4,550.9 L191.0,550.9Z" fill="none" stroke="#0000ff" stroke-width="1.80" stroke-linejoin="miter"/>
<path d="M198.1,542.3 L202.3,549.6 L193.9,549.6Z" fill="none" stroke="#0000ff" stroke-width="1.80" stroke-linejoin="miter"/>
<path d="M201.0,540.9 L205.2,548.3 L196.8,548.3Z" fill="none" stroke="#0000ff" stroke-width="1.80" stroke-linejoin="miter"/>
<path d="M205.9,537.6 L210.1,544.9 L201.7,544.9Z" fill="none" stroke="#0000ff" stroke-width="1.80" stroke-linejoin="miter"/>
<path d="M210.8,534.2 L215.0,541.6 L206.6,541.6Z" fill="none" stroke="#0000ff" stroke-width="1.80" stroke-linejoin="miter"/>
<path d="M215.7,530.9 L219.9,538.3 L211.5,538.3Z" fill="none" stroke="#0000ff" stroke-width="1.80" stroke-linejoin="miter"/>
<path d="M222.8,525.8 L227.0,533.1 L218.7,533.1Z" fill="none" stroke="#0000ff" stroke-width="1.80" stroke-linejoin="miter"/>
<path d="M230.0,520.6 L234.2,528.0 L225.8,528.0Z" fill="none" stroke="#0000ff" stroke-width="1.80" stroke-linejoin="miter"/>
<path d="M240.5,510.4 L244.7,517.8 L236.3,517.8Z" fill="none" stroke="#0000ff" stroke-width="1.80" stroke-linejoin="miter"/>
<path d="M250.4,503.6 L254.6,511.0 L246.2,511.0Z" fill="none" stroke="#0000ff" stroke-width="1.80" stroke-linejoin="miter"/>
<path d="M259.9,499.3 L264.1,506.7 L255.7,506.7Z" fill="none" stroke="#0000ff" stroke-width="1.80" stroke-linejoin="miter"/>
<path d="M270.8,495.6 L275.0,503.0 L266.6,503.0Z" fill="none" stroke="#0000ff" stroke-width="1.80" stroke-linejoin="miter"/>
<path d="M281.8,492.7 L286.0,500.1 L277.6,500.1Z" fill="none" stroke="#0000ff" stroke-width="1.80" stroke-linejoin="miter"/>
<path d="M293.4,492.0 L297.6,499.4 L289.2,499.4Z" fill="none" stroke="#0000ff" stroke-width="1.80" stroke-linejoin="miter"/>
<path d="M306.4,491.4 L310.6,498.8 L302.2,498.8Z" fill="none" stroke="#0000ff" stroke-width="1.80" stroke-linejoin="miter"/>
<path d="M319.6,491.9 L323.8,499.3 L315.4,499.3Z" fill="none" stroke="#0000ff" stroke-width="1.80" stroke-linejoin="miter"/>
<path d="M331.7,493.3 L335.9,500.7 L327.5,500.7Z" fill="none" stroke="#0000ff" stroke-width="1.80" stroke-linejoin="miter"/>
<path d="M343.5,495.0 L347.7,502.4 L339.3,502.4Z" fill="none" stroke="#0000ff" stroke-width="1.80" stroke-linejoin="miter"/>
<path d="M354.6,497.9 L358.8,505.3 L350.4,505.3Z" fill="none" stroke="#0000ff" stroke-width="1.80" stroke-linejoin="miter"/>
<path d="M364.5,502.6 L368.7,510.0 L360.3,510.0Z" fill="none" stroke="#0000ff" stroke-width="1.80" stroke-linejoin="miter"/>
<path d="M373.9,506.1 L378.1,513.5 L369.7,513.5Z" fill="none" stroke="#0000ff" stroke-width="1.80" stroke-linejoin="miter"/>
<path d="M383.2,511.3 L387.4,518.7 L379.0,518.7Z" fill="none" stroke="#0000ff" stroke-width="1.80" stroke-linejoin="miter"/>
<path d="M387.9,513.7 L392.1,521.1 L383.7,521.1Z" fill="none" stroke="#0000ff" stroke-width="1.80" stroke-linejoin="miter"/>
<path d="M394.3,517.8 L398.5,525.2 L390.1,525.2Z" fill="none" stroke="#0000ff" stroke-width="1.80" stroke-linejoin="miter"/>
<path d="M401.8,520.4 L406.0,527.8 L397.6,527.8Z" fill="none" stroke="#0000ff" stroke-width="1.80" stroke-linejoin="miter"/>
<path d="M405.3,523.2 L409.5,530.6 L401.1,530.6Z" fill="none" stroke="#0000ff" stroke-width="1.80" stroke-linejoin="miter"/>
<path d="M410.5,528.5 L414.7,535.9 L406.3,535.9Z" fill="none" stroke="#0000ff" stroke-width="1.80" stroke-linejoin="miter"/>
<path d="M414.0,530.2 L418.2,537.6 L409.8,537.6Z" fill="none" stroke="#0000ff" stroke-width="1.80" stroke-linejoin="miter"/>
<path d="M417.5,534.6 L421.7,542.0 L413.3,542.0Z" fill="none" stroke="#0000ff" stroke-width="1.80" stroke-linejoin="miter"/>
<path d="M420.1,536.4 L424.3,543.7 L416.0,543.7Z" fill="none" stroke="#0000ff" stroke-width="1.80" stroke-linejoin="miter"/>
<path d="M422.8,538.1 L427.0,545.5 L418.6,545.5Z" fill="none" stroke="#0000ff" stroke-width="1.80" stroke-linejoin="miter"/>
<path d="M425.4,540.3 L429.6,547.7 L421.2,547.7Z" fill="none" stroke="#0000ff" stroke-width="1.80" stroke-linejoin="miter"/>
<path d="M428.0,542.5 L432.2,549.9 L423.8,549.9Z" fill="none" stroke="#0000ff" stroke-width="1.80" stroke-linejoin="miter"/>
<path d="M430.2,544.3 L434.4,551.6 L426.0,551.6Z" fill="none" stroke="#0000ff" stroke-width="1.80" stroke-linejoin="miter"/>
<path d="M432.4,546.0 L436.6,553.4 L428.2,553.4Z" fill="none" stroke="#0000ff" stroke-width="1.80" stroke-linejoin="miter"/>
<path d="M434.6,548.2 L438.8,555.6 L430.4,555.6Z" fill="none" stroke="#0000ff" stroke-width="1.80" stroke-linejoin="miter"/>
<path d="M436.8,550.4 L441.0,557.8 L432.6,557.8Z" fill="none" stroke="#0000ff" stroke-width="1.80" stroke-linejoin="miter"/>
<path d="M439.0,552.6 L443.2,559.9 L434.8,559.9Z" fill="none" stroke="#0000ff" stroke-width="1.80" stroke-linejoin="miter"/>
<path d="M441.2,554.7 L445.4,562.1 L437.0,562.1Z" fill="none" stroke="#0000ff" stroke-width="1.80" stroke-linejoin="miter"/>
<path d="M442.9,556.5 L447.1,563.8 L438.8,563.8Z" fill="none" stroke="#0000ff" stroke-width="1.80" stroke-linejoin="miter"/>
<path d="M444.7,558.2 L448.9,565.6 L440.5,565.6Z" fill="none" stroke="#0000ff" stroke-width="1.80" stroke-linejoin="miter"/>
<path d="M446.0,559.6 L450.2,566.9 L441.8,566.9Z" fill="none" stroke="#0000ff" stroke-width="1.80" stroke-linejoin="miter"/>
<path d="M447.3,560.9 L451.5,568.3 L443.1,568.3Z" fill="none" stroke="#0000ff" stroke-width="1.80" stroke-linejoin="miter"/>
<rect x="159.1" y="551.5" width="7.9" height="7.9" fill="none" stroke="#40ff00" stroke-width="2.0"/>
<rect x="162.4" y="550.9" width="7.9" height="7.9" fill="none" stroke="#40ff00" stroke-width="2.0"/>
<rect x="165.8" y="550.3" width="7.9" height="7.9" fill="none" stroke="#40ff00" stroke-width="2.0"/>
<rect x="169.1" y="549.6" width="7.9" height="7.9" fill="none" stroke="#40ff00" stroke-width="2.0"/>
<rect x="172.5" y="549.0" width="7.9" height="7.9" fill="none" stroke="#40ff00" stroke-width="2.0"/>
<rect x="175.8" y="548.3" width="7.9" height="7.9" fill="none" stroke="#40ff00" stroke-width="2.0"/>
<rect x="179.2" y="547.7" width="7.9" height="7.9" fill="none" stroke="#40ff00" stroke-width="2.0"/>
<rect x="182.6" y="547.0" width="7.9" height="7.9" fill="none" stroke="#40ff00" stroke-width="2.0"/>
<rect x="185.8" y="544.0" width="7.9" height="7.9" fill="none" stroke="#40ff00" stroke-width="2.0"/>
<rect x="189.0" y="541.0" width="7.9" height="7.9" fill="none" stroke="#40ff00" stroke-width="2.0"/>
<rect x="192.2" y="538.0" width="7.9" height="7.9" fill="none" stroke="#40ff00" stroke-width="2.0"/>
<rect x="195.4" y="535.0" width="7.9" height="7.9" fill="none" stroke="#40ff00" stroke-width="2.0"/>
<rect x="198.7" y="532.0" width="7.9" height="7.9" fill="none" stroke="#40ff00" stroke-width="2.0"/>
<rect x="203.5" y="529.0" width="7.9" height="7.9" fill="none" stroke="#40ff00" stroke-width="2.0"/>
<rect x="208.2" y="526.0" width="7.9" height="7.9" fill="none" stroke="#40ff00" stroke-width="2.0"/>
<rect x="213.1" y="523.0" width="7.9" height="7.9" fill="none" stroke="#40ff00" stroke-width="2.0"/>
<rect x="220.6" y="519.5" width="7.9" height="7.9" fill="none" stroke="#40ff00" stroke-width="2.0"/>
<rect x="228.1" y="516.0" width="7.9" height="7.9" fill="none" stroke="#40ff00" stroke-width="2.0"/>
<rect x="236.1" y="512.5" width="7.9" height="7.9" fill="none" stroke="#40ff00" stroke-width="2.0"/>
<rect x="245.1" y="508.6" width="7.9" height="7.9" fill="none" stroke="#40ff00" stroke-width="2.0"/>
<rect x="254.4" y="506.1" width="7.9" height="7.9" fill="none" stroke="#40ff00" stroke-width="2.0"/>
<rect x="264.7" y="504.4" width="7.9" height="7.9" fill="none" stroke="#40ff00" stroke-width="2.0"/>
<rect x="274.9" y="503.1" width="7.9" height="7.9" fill="none" stroke="#40ff00" stroke-width="2.0"/>
<rect x="285.6" y="502.4" width="7.9" height="7.9" fill="none" stroke="#40ff00" stroke-width="2.0"/>
<rect x="296.6" y="503.7" width="7.9" height="7.9" fill="none" stroke="#40ff00" stroke-width="2.0"/>
<rect x="307.1" y="505.4" width="7.9" height="7.9" fill="none" stroke="#40ff00" stroke-width="2.0"/>
<rect x="316.9" y="507.8" width="7.9" height="7.9" fill="none" stroke="#40ff00" stroke-width="2.0"/>
<rect x="325.7" y="510.7" width="7.9" height="7.9" fill="none" stroke="#40ff00" stroke-width="2.0"/>
<rect x="333.2" y="514.4" width="7.9" height="7.9" fill="none" stroke="#40ff00" stroke-width="2.0"/>
<rect x="340.2" y="518.0" width="7.9" height="7.9" fill="none" stroke="#40ff00" stroke-width="2.0"/>
<rect x="346.6" y="523.8" width="7.9" height="7.9" fill="none" stroke="#40ff00" stroke-width="2.0"/>
<rect x="351.1" y="526.4" width="7.9" height="7.9" fill="none" stroke="#40ff00" stroke-width="2.0"/>
<rect x="355.4" y="528.4" width="7.9" height="7.9" fill="none" stroke="#40ff00" stroke-width="2.0"/>
<rect x="359.4" y="529.5" width="7.9" height="7.9" fill="none" stroke="#40ff00" stroke-width="2.0"/>
<rect x="363.4" y="530.8" width="7.9" height="7.9" fill="none" stroke="#40ff00" stroke-width="2.0"/>
<rect x="365.2" y="535.4" width="7.9" height="7.9" fill="none" stroke="#40ff00" stroke-width="2.0"/>
<rect x="368.8" y="537.1" width="7.9" height="7.9" fill="none" stroke="#40ff00" stroke-width="2.0"/>
<rect x="372.2" y="538.9" width="7.9" height="7.9" fill="none" stroke="#40ff00" stroke-width="2.0"/>
<rect x="374.0" y="540.1" width="7.9" height="7.9" fill="none" stroke="#40ff00" stroke-width="2.0"/>
<rect x="375.8" y="541.2" width="7.9" height="7.9" fill="none" stroke="#40ff00" stroke-width="2.0"/>
<rect x="377.5" y="543.0" width="7.9" height="7.9" fill="none" stroke="#40ff00" stroke-width="2.0"/>
<rect x="379.2" y="544.8" width="7.9" height="7.9" fill="none" stroke="#40ff00" stroke-width="2.0"/>
<rect x="381.0" y="546.5" width="7.9" height="7.9" fill="none" stroke="#40ff00" stroke-width="2.0"/>
<rect x="382.8" y="548.2" width="7.9" height="7.9" fill="none" stroke="#40ff00" stroke-width="2.0"/>
<rect x="384.5" y="550.0" width="7.9" height="7.9" fill="none" stroke="#40ff00" stroke-width="2.0"/>
<rect x="386.2" y="551.8" width="7.9" height="7.9" fill="none" stroke="#40ff00" stroke-width="2.0"/>
<rect x="388.0" y="553.2" width="7.9" height="7.9" fill="none" stroke="#40ff00" stroke-width="2.0"/>
<rect x="389.8" y="554.6" width="7.9" height="7.9" fill="none" stroke="#40ff00" stroke-width="2.0"/>
<rect x="390.9" y="555.6" width="7.9" height="7.9" fill="none" stroke="#40ff00" stroke-width="2.0"/>
<rect x="392.1" y="556.6" width="7.9" height="7.9" fill="none" stroke="#40ff00" stroke-width="2.0"/>
<rect x="393.2" y="557.6" width="7.9" height="7.9" fill="none" stroke="#40ff00" stroke-width="2.0"/>
<rect x="394.2" y="558.4" width="7.9" height="7.9" fill="none" stroke="#40ff00" stroke-width="2.0"/>
<rect x="395.2" y="559.2" width="7.9" height="7.9" fill="none" stroke="#40ff00" stroke-width="2.0"/>
<rect x="396.2" y="559.9" width="7.9" height="7.9" fill="none" stroke="#40ff00" stroke-width="2.0"/>
<path d="M159.0,563.1 L163.2,555.7 L154.8,555.7Z" fill="none" stroke="#ff180a" stroke-width="1.80" stroke-linejoin="miter"/>
<path d="M160.6,562.5 L164.8,555.1 L156.4,555.1Z" fill="none" stroke="#ff180a" stroke-width="1.80" stroke-linejoin="miter"/>
<path d="M162.2,561.8 L166.4,554.5 L158.1,554.5Z" fill="none" stroke="#ff180a" stroke-width="1.80" stroke-linejoin="miter"/>
<path d="M163.9,561.2 L168.1,553.9 L159.7,553.9Z" fill="none" stroke="#ff180a" stroke-width="1.80" stroke-linejoin="miter"/>
<path d="M165.5,560.6 L169.7,553.2 L161.3,553.2Z" fill="none" stroke="#ff180a" stroke-width="1.80" stroke-linejoin="miter"/>
<path d="M167.1,560.0 L171.3,552.6 L162.9,552.6Z" fill="none" stroke="#ff180a" stroke-width="1.80" stroke-linejoin="miter"/>
<path d="M168.8,559.3 L172.9,552.0 L164.6,552.0Z" fill="none" stroke="#ff180a" stroke-width="1.80" stroke-linejoin="miter"/>
<path d="M170.4,558.7 L174.6,551.4 L166.2,551.4Z" fill="none" stroke="#ff180a" stroke-width="1.80" stroke-linejoin="miter"/>
<path d="M172.0,558.1 L176.2,550.7 L167.8,550.7Z" fill="none" stroke="#ff180a" stroke-width="1.80" stroke-linejoin="miter"/>
<path d="M174.1,557.2 L178.3,549.8 L169.9,549.8Z" fill="none" stroke="#ff180a" stroke-width="1.80" stroke-linejoin="miter"/>
<path d="M176.1,556.2 L180.3,548.9 L172.0,548.9Z" fill="none" stroke="#ff180a" stroke-width="1.80" stroke-linejoin="miter"/>
<path d="M178.2,555.3 L182.4,547.9 L174.0,547.9Z" fill="none" stroke="#ff180a" stroke-width="1.80" stroke-linejoin="miter"/>
<path d="M180.3,554.4 L184.5,547.0 L176.1,547.0Z" fill="none" stroke="#ff180a" stroke-width="1.80" stroke-linejoin="miter"/>
<path d="M182.4,553.4 L186.5,546.1 L178.2,546.1Z" fill="none" stroke="#ff180a" stroke-width="1.80" stroke-linejoin="miter"/>
<path d="M184.4,552.5 L188.6,545.2 L180.2,545.2Z" fill="none" stroke="#ff180a" stroke-width="1.80" stroke-linejoin="miter"/>
<path d="M186.5,551.6 L190.7,544.2 L182.3,544.2Z" fill="none" stroke="#ff180a" stroke-width="1.80" stroke-linejoin="miter"/>
<path d="M189.4,550.1 L193.6,542.7 L185.2,542.7Z" fill="none" stroke="#ff180a" stroke-width="1.80" stroke-linejoin="miter"/>
<path d="M192.3,548.6 L196.5,541.2 L188.1,541.2Z" fill="none" stroke="#ff180a" stroke-width="1.80" stroke-linejoin="miter"/>
<path d="M195.2,547.1 L199.4,539.7 L191.0,539.7Z" fill="none" stroke="#ff180a" stroke-width="1.80" stroke-linejoin="miter"/>
<path d="M198.1,545.6 L202.3,538.2 L193.9,538.2Z" fill="none" stroke="#ff180a" stroke-width="1.80" stroke-linejoin="miter"/>
<path d="M201.0,544.1 L205.2,536.7 L196.8,536.7Z" fill="none" stroke="#ff180a" stroke-width="1.80" stroke-linejoin="miter"/>
<path d="M205.9,541.4 L210.1,534.1 L201.7,534.1Z" fill="none" stroke="#ff180a" stroke-width="1.80" stroke-linejoin="miter"/>
<path d="M210.8,538.8 L215.0,531.4 L206.6,531.4Z" fill="none" stroke="#ff180a" stroke-width="1.80" stroke-linejoin="miter"/>
<path d="M215.7,536.1 L219.9,528.7 L211.5,528.7Z" fill="none" stroke="#ff180a" stroke-width="1.80" stroke-linejoin="miter"/>
<path d="M222.8,532.3 L227.0,525.0 L218.7,525.0Z" fill="none" stroke="#ff180a" stroke-width="1.80" stroke-linejoin="miter"/>
<path d="M230.0,528.6 L234.2,521.2 L225.8,521.2Z" fill="none" stroke="#ff180a" stroke-width="1.80" stroke-linejoin="miter"/>
<path d="M237.5,526.1 L241.7,518.7 L233.3,518.7Z" fill="none" stroke="#ff180a" stroke-width="1.80" stroke-linejoin="miter"/>
<path d="M245.0,524.1 L249.2,516.7 L240.8,516.7Z" fill="none" stroke="#ff180a" stroke-width="1.80" stroke-linejoin="miter"/>
<path d="M253.3,521.6 L257.5,514.2 L249.1,514.2Z" fill="none" stroke="#ff180a" stroke-width="1.80" stroke-linejoin="miter"/>
<path d="M262.8,520.7 L267.0,513.3 L258.6,513.3Z" fill="none" stroke="#ff180a" stroke-width="1.80" stroke-linejoin="miter"/>
<path d="M272.3,520.7 L276.5,513.3 L268.1,513.3Z" fill="none" stroke="#ff180a" stroke-width="1.80" stroke-linejoin="miter"/>
<path d="M282.3,522.4 L286.5,515.0 L278.1,515.0Z" fill="none" stroke="#ff180a" stroke-width="1.80" stroke-linejoin="miter"/>
<path d="M290.8,524.6 L295.0,517.2 L286.6,517.2Z" fill="none" stroke="#ff180a" stroke-width="1.80" stroke-linejoin="miter"/>
<path d="M298.6,527.6 L302.8,520.2 L294.4,520.2Z" fill="none" stroke="#ff180a" stroke-width="1.80" stroke-linejoin="miter"/>
<path d="M306.3,531.5 L310.5,524.1 L302.1,524.1Z" fill="none" stroke="#ff180a" stroke-width="1.80" stroke-linejoin="miter"/>
<path d="M311.5,533.9 L315.7,526.5 L307.3,526.5Z" fill="none" stroke="#ff180a" stroke-width="1.80" stroke-linejoin="miter"/>
<path d="M316.2,536.8 L320.4,529.4 L312.0,529.4Z" fill="none" stroke="#ff180a" stroke-width="1.80" stroke-linejoin="miter"/>
<path d="M320.3,539.1 L324.5,531.7 L316.1,531.7Z" fill="none" stroke="#ff180a" stroke-width="1.80" stroke-linejoin="miter"/>
<path d="M324.4,542.1 L328.6,534.7 L320.2,534.7Z" fill="none" stroke="#ff180a" stroke-width="1.80" stroke-linejoin="miter"/>
<path d="M326.1,543.2 L330.3,535.9 L322.0,535.9Z" fill="none" stroke="#ff180a" stroke-width="1.80" stroke-linejoin="miter"/>
<path d="M327.9,544.4 L332.1,537.0 L323.7,537.0Z" fill="none" stroke="#ff180a" stroke-width="1.80" stroke-linejoin="miter"/>
<path d="M329.6,545.8 L333.8,538.5 L325.5,538.5Z" fill="none" stroke="#ff180a" stroke-width="1.80" stroke-linejoin="miter"/>
<path d="M331.4,547.3 L335.6,539.9 L327.2,539.9Z" fill="none" stroke="#ff180a" stroke-width="1.80" stroke-linejoin="miter"/>
<path d="M333.1,548.4 L337.3,541.1 L329.0,541.1Z" fill="none" stroke="#ff180a" stroke-width="1.80" stroke-linejoin="miter"/>
<path d="M334.9,549.6 L339.1,542.2 L330.7,542.2Z" fill="none" stroke="#ff180a" stroke-width="1.80" stroke-linejoin="miter"/>
<path d="M336.6,551.3 L340.8,544.0 L332.5,544.0Z" fill="none" stroke="#ff180a" stroke-width="1.80" stroke-linejoin="miter"/>
<path d="M338.4,553.1 L342.6,545.7 L334.2,545.7Z" fill="none" stroke="#ff180a" stroke-width="1.80" stroke-linejoin="miter"/>
<path d="M340.1,554.9 L344.3,547.5 L336.0,547.5Z" fill="none" stroke="#ff180a" stroke-width="1.80" stroke-linejoin="miter"/>
<path d="M341.9,556.7 L346.1,549.3 L337.7,549.3Z" fill="none" stroke="#ff180a" stroke-width="1.80" stroke-linejoin="miter"/>
<path d="M343.1,557.9 L347.2,550.5 L338.9,550.5Z" fill="none" stroke="#ff180a" stroke-width="1.80" stroke-linejoin="miter"/>
<path d="M344.2,559.0 L348.4,551.7 L340.1,551.7Z" fill="none" stroke="#ff180a" stroke-width="1.80" stroke-linejoin="miter"/>
<path d="M345.4,560.2 L349.6,552.8 L341.2,552.8Z" fill="none" stroke="#ff180a" stroke-width="1.80" stroke-linejoin="miter"/>
<path d="M346.6,561.4 L350.7,554.0 L342.4,554.0Z" fill="none" stroke="#ff180a" stroke-width="1.80" stroke-linejoin="miter"/>
<path d="M347.7,562.5 L351.9,555.2 L343.6,555.2Z" fill="none" stroke="#ff180a" stroke-width="1.80" stroke-linejoin="miter"/>
<path d="M348.9,563.7 L353.1,556.3 L344.7,556.3Z" fill="none" stroke="#ff180a" stroke-width="1.80" stroke-linejoin="miter"/>
<path d="M349.7,564.9 L353.8,557.5 L345.5,557.5Z" fill="none" stroke="#ff180a" stroke-width="1.80" stroke-linejoin="miter"/>
<path d="M350.4,566.0 L354.6,558.7 L346.3,558.7Z" fill="none" stroke="#ff180a" stroke-width="1.80" stroke-linejoin="miter"/>
<path d="M351.2,567.2 L355.4,559.8 L347.0,559.8Z" fill="none" stroke="#ff180a" stroke-width="1.80" stroke-linejoin="miter"/>
<path d="M351.6,568.0 L355.8,560.6 L347.4,560.6Z" fill="none" stroke="#ff180a" stroke-width="1.80" stroke-linejoin="miter"/>
<path d="M352.0,568.7 L356.2,561.4 L347.8,561.4Z" fill="none" stroke="#ff180a" stroke-width="1.80" stroke-linejoin="miter"/>
<path d="M352.4,569.5 L356.6,562.1 L348.2,562.1Z" fill="none" stroke="#ff180a" stroke-width="1.80" stroke-linejoin="miter"/>
<circle cx="555.8" cy="284.2" r="4.6" fill="#000"/>
<circle cx="552.6" cy="286.2" r="3.6" fill="#000"/>
<path d="M104.0,1002.7 C104.0,1002.7 120.3,998.6 120.3,998.6 C120.3,998.6 136.7,994.5 136.7,994.5 C136.7,994.5 153.0,991.5 153.0,991.5 C153.0,991.5 169.4,989.8 169.4,989.8 C169.4,989.8 181.7,990.4 181.7,990.4 C181.7,990.4 193.9,992.5 193.9,992.5 C193.9,992.5 206.2,996.2 206.2,996.2 C206.2,996.2 215.4,998.2 215.4,998.2 C215.4,998.2 224.6,998.6 224.6,998.6 C224.6,998.6 236.8,992.9 236.8,992.9 C236.8,992.9 240.0,988.4 240.0,988.4 C240.0,988.4 248.0,977.7 248.0,977.7 C248.0,977.7 254.6,965.8 254.6,965.8 C254.6,965.8 261.9,943.9 261.9,943.9 C261.9,943.9 270.7,911.8 270.7,911.8 C270.7,911.8 280.9,882.6 280.9,882.6 C280.9,882.6 291.8,852.6 291.8,852.6 C291.8,852.6 303.1,838.0 303.1,838.0 C303.1,838.0 314.5,842.8 314.5,842.8 C314.5,842.8 325.4,865.0 325.4,865.0 C325.4,865.0 331.2,881.1 331.2,881.1 C331.2,881.1 340.0,905.9 340.0,905.9 C340.0,905.9 347.3,926.4 347.3,926.4 C347.3,926.4 358.2,942.1 358.2,942.1 C358.2,942.1 369.2,938.8 369.2,938.8 C369.2,938.8 380.1,917.6 380.1,917.6 C380.1,917.6 391.1,888.4 391.1,888.4 C391.1,888.4 402.0,858.5 402.0,858.5 C402.0,858.5 413.7,841.4 413.7,841.4 C413.7,841.4 424.4,840.2 424.4,840.2 C424.4,840.2 430.0,847.3 430.0,847.3 C430.0,847.3 435.8,855.3 435.8,855.3 C435.8,855.3 441.7,869.2 441.7,869.2 C441.7,869.2 449.0,886.7 449.0,886.7 C449.0,886.7 456.3,904.2 456.3,904.2 C456.3,904.2 465.0,921.8 465.0,921.8 C465.0,921.8 473.8,939.3 473.8,939.3 C473.8,939.3 481.1,950.9 481.1,950.9 C481.1,950.9 489.9,957.5 489.9,957.5 C489.9,957.5 501.5,961.2 501.5,961.2 C501.5,961.2 517.6,963.8 517.6,963.8 C517.6,963.8 532.3,965.4 532.3,965.4 C532.3,965.4 544.5,969.1 544.5,969.1 C544.5,969.1 560.9,973.6 560.9,973.6 C560.9,973.6 577.2,975.7 577.2,975.7 C577.2,975.7 591.5,979.3 591.5,979.3 C591.5,979.3 603.8,983.8 603.8,983.8 C603.8,983.8 616.1,990.0 616.1,990.0 C616.1,990.0 628.3,996.1 628.3,996.1 C628.3,996.1 640.6,1001.8 640.6,1001.8 C640.6,1001.8 648.8,1004.7 648.8,1004.7 C648.8,1004.7 655.9,1005.3 655.9,1005.3" fill="none" stroke="#000" stroke-width="2.15" stroke-linejoin="round"/>
<path d="M104.0,998.6 C104.0,998.6 112.2,996.2 112.2,996.2 C112.2,996.2 122.4,994.9 122.4,994.9 C122.4,994.9 130.6,995.3 130.6,995.3 C130.6,995.3 140.8,997.6 140.8,997.6 C140.8,997.6 153.0,1001.7 153.0,1001.7 C153.0,1001.7 165.3,1005.8 165.3,1005.8 C165.3,1005.8 177.6,1009.2 177.6,1009.2 C177.6,1009.2 189.8,1010.9 189.8,1010.9 C189.8,1010.9 198.0,1011.1 198.0,1011.1 C198.0,1011.1 208.2,1008.8 208.2,1008.8 C208.2,1008.8 218.4,1002.7 218.4,1002.7 C218.4,1002.7 228.7,992.5 228.7,992.5 C228.7,992.5 240.0,977.4 240.0,977.4 C240.0,977.4 248.8,966.5 248.8,966.5 C248.8,966.5 259.0,952.6 259.0,952.6 C259.0,952.6 275.0,926.4 275.0,926.4 C275.0,926.4 286.7,904.5 286.7,904.5 C286.7,904.5 296.9,886.2 296.9,886.2 C296.9,886.2 308.6,875.0 308.6,875.0 C308.6,875.0 319.6,877.0 319.6,877.0 C319.6,877.0 330.5,893.5 330.5,893.5 C330.5,893.5 340.0,914.7 340.0,914.7 C340.0,914.7 352.4,940.2 352.4,940.2 C352.4,940.2 363.4,950.0 363.4,950.0 C363.4,950.0 374.3,942.4 374.3,942.4 C374.3,942.4 385.3,920.5 385.3,920.5 C385.3,920.5 396.2,894.2 396.2,894.2 C396.2,894.2 407.2,866.5 407.2,866.5 C407.2,866.5 418.8,853.6 418.8,853.6 C418.8,853.6 429.8,857.0 429.8,857.0 C429.8,857.0 441.7,874.3 441.7,874.3 C441.7,874.3 451.9,895.5 451.9,895.5 C451.9,895.5 462.1,915.9 462.1,915.9 C462.1,915.9 472.3,934.9 472.3,934.9 C472.3,934.9 482.6,950.9 482.6,950.9 C482.6,950.9 494.2,961.9 494.2,961.9 C494.2,961.9 507.4,965.5 507.4,965.5 C507.4,965.5 520.0,966.5 520.0,966.5 C520.0,966.5 536.3,968.5 536.3,968.5 C536.3,968.5 552.7,971.6 552.7,971.6 C552.7,971.6 569.0,974.6 569.0,974.6 C569.0,974.6 585.4,978.1 585.4,978.1 C585.4,978.1 601.7,983.8 601.7,983.8 C601.7,983.8 616.1,991.0 616.1,991.0 C616.1,991.0 628.3,997.1 628.3,997.1 C628.3,997.1 640.6,999.8 640.6,999.8 C640.6,999.8 655.9,1000.2 655.9,1000.2" fill="none" stroke="#0000ff" stroke-width="2.15" stroke-linejoin="round"/>
<path d="M104.0,1007.8 C106.5,1007.2 111.0,1005.9 116.3,1004.7 C121.6,1003.5 124.9,1002.7 130.6,1001.7 C136.3,1000.7 139.2,1000.2 144.9,999.6 C150.6,999.0 153.5,998.8 159.2,998.6 C164.9,998.4 168.2,998.3 173.5,998.6 C178.8,998.9 180.8,999.4 185.7,1000.2 C190.6,1001.0 193.1,1001.4 198.0,1002.7 C202.9,1004.0 205.4,1005.4 210.3,1006.8 C215.2,1008.2 218.4,1009.4 222.5,1009.9 C226.6,1010.4 227.4,1010.2 230.7,1009.4 C234.0,1008.6 235.3,1008.7 238.9,1005.8 C242.5,1002.9 244.8,1000.7 248.8,995.0 C252.8,989.3 254.9,985.9 259.0,977.4 C263.1,968.9 264.8,963.4 269.2,952.6 C273.6,941.8 276.5,933.0 280.9,923.4 C285.3,913.8 287.3,910.0 291.1,904.5 C294.9,899.0 297.0,897.9 299.9,895.7 C302.8,893.5 303.5,893.8 305.7,893.5 C307.9,893.2 308.2,892.6 310.8,894.2 C313.4,895.8 314.9,896.5 318.8,901.5 C322.7,906.5 326.3,912.4 330.5,919.1 C334.7,925.8 336.3,929.6 340.0,935.1 C343.7,940.6 344.4,942.7 348.8,946.8 C353.2,950.9 357.1,954.6 361.9,955.5 C366.7,956.4 368.4,954.7 372.8,951.2 C377.2,947.7 379.3,945.0 383.8,938.0 C388.3,931.0 390.8,925.4 395.5,916.1 C400.2,906.8 402.5,899.2 407.2,891.3 C411.9,883.4 414.7,880.1 418.8,876.4 C422.9,872.7 423.6,871.4 427.6,872.6 C431.6,873.8 434.8,877.7 438.8,882.3 C442.8,886.9 443.7,889.4 447.5,895.5 C451.3,901.6 453.6,906.0 457.7,913.0 C461.8,920.0 463.9,923.5 468.0,930.5 C472.1,937.5 474.1,941.9 478.2,948.0 C482.3,954.1 484.3,957.3 488.4,961.2 C492.5,965.1 493.9,965.8 498.6,967.7 C503.3,969.6 507.5,970.0 511.8,970.7 C516.1,971.4 515.1,971.0 520.0,971.2 C524.9,971.4 529.8,971.3 536.3,971.6 C542.8,971.9 546.2,971.9 552.7,972.6 C559.2,973.3 562.5,973.8 569.0,975.2 C575.5,976.6 578.9,977.6 585.4,979.7 C591.9,981.8 595.6,983.4 601.7,985.9 C607.8,988.4 610.8,989.6 616.1,992.0 C621.4,994.4 623.4,996.1 628.3,997.7 C633.2,999.3 635.1,999.3 640.6,999.8 C646.1,1000.3 652.8,1000.1 655.9,1000.2" fill="none" stroke="#40ff00" stroke-width="2.15" stroke-linejoin="round"/>
<path d="M104.0,1004.3 C106.5,1004.0 111.4,1003.2 116.3,1002.7 C121.2,1002.2 122.8,1001.8 128.5,1001.7 C134.2,1001.6 138.4,1002.0 144.9,1002.3 C151.4,1002.6 154.7,1002.9 161.2,1003.3 C167.7,1003.7 171.9,1004.1 177.6,1004.3 C183.3,1004.5 184.9,1004.5 189.8,1004.3 C194.7,1004.1 197.2,1003.6 202.1,1003.1 C207.0,1002.6 209.5,1002.2 214.4,1001.7 C219.3,1001.2 221.5,1001.2 226.6,1000.7 C231.7,1000.2 235.6,1000.2 240.0,999.3 C244.4,998.4 245.0,998.6 248.8,996.4 C252.6,994.2 254.9,992.2 259.0,988.4 C263.1,984.6 264.8,983.4 269.2,977.4 C273.6,971.4 276.2,966.1 280.9,958.5 C285.6,950.9 288.2,945.8 292.6,939.5 C297.0,933.2 298.7,930.7 302.8,927.1 C306.9,923.5 309.6,922.7 313.0,921.7 C316.4,920.7 316.4,920.5 319.6,922.3 C322.8,924.1 325.0,926.4 329.1,930.7 C333.2,935.0 335.2,938.1 340.0,943.9 C344.8,949.7 348.1,955.2 353.1,959.9 C358.1,964.6 360.1,966.5 364.8,967.2 C369.5,967.9 371.8,967.1 376.5,963.6 C381.2,960.1 383.2,957.4 388.2,949.7 C393.2,942.0 396.3,934.1 401.3,924.9 C406.3,915.7 408.6,910.3 413.0,903.7 C417.4,897.1 419.7,894.8 423.2,892.0 C426.7,889.2 428.0,889.9 430.5,889.9 C433.0,889.9 433.3,890.2 435.8,891.8 C438.3,893.4 439.9,894.3 443.1,897.7 C446.3,901.1 448.4,903.5 451.9,908.6 C455.4,913.7 457.2,917.1 460.7,923.2 C464.2,929.3 465.6,932.9 469.4,939.3 C473.2,945.7 475.5,949.8 479.6,955.3 C483.7,960.8 485.8,963.3 489.9,967.0 C494.0,970.7 495.7,971.7 500.1,973.6 C504.5,975.5 507.8,975.9 511.8,976.5 C515.8,977.1 515.1,976.8 520.0,976.7 C524.9,976.6 529.8,976.3 536.3,976.1 C542.8,975.9 547.0,975.5 552.7,975.7 C558.4,975.9 559.3,976.2 565.0,977.3 C570.7,978.4 574.8,979.5 581.3,981.4 C587.8,983.3 591.6,984.6 597.7,986.9 C603.8,989.2 606.3,990.8 612.0,993.0 C617.7,995.2 620.6,996.3 626.3,997.7 C632.0,999.1 634.7,999.4 640.6,999.8 C646.5,1000.2 652.8,999.8 655.9,999.8" fill="none" stroke="#ff180a" stroke-width="2.15" stroke-linejoin="round"/>
<path d="M104.0,1289.5 C104.0,1289.5 144.9,1289.1 144.9,1289.1 C144.9,1289.1 161.2,1287.4 161.2,1287.4 C161.2,1287.4 173.5,1284.4 173.5,1284.4 C173.5,1284.4 185.7,1276.2 185.7,1276.2 C185.7,1276.2 198.0,1267.0 198.0,1267.0 C198.0,1267.0 209.3,1259.2 209.3,1259.2 C209.3,1259.2 220.5,1254.7 220.5,1254.7 C220.5,1254.7 230.7,1253.7 230.7,1253.7 C230.7,1253.7 240.0,1254.5 240.0,1254.5 C240.0,1254.5 252.3,1255.3 252.3,1255.3 C252.3,1255.3 264.5,1250.1 264.5,1250.1 C264.5,1250.1 275.0,1241.3 275.0,1241.3 C275.0,1241.3 285.5,1229.1 285.5,1229.1 C285.5,1229.1 297.8,1218.5 297.8,1218.5 C297.8,1218.5 308.3,1212.9 308.3,1212.9 C308.3,1212.9 318.8,1211.9 318.8,1211.9 C318.8,1211.9 330.0,1211.9 330.0,1211.9 C330.0,1211.9 341.7,1208.2 341.7,1208.2 C341.7,1208.2 352.6,1195.5 352.6,1195.5 C352.6,1195.5 360.0,1180.1 360.0,1180.1 C360.0,1180.1 364.1,1172.9 364.1,1172.9 C364.1,1172.9 373.3,1150.4 373.3,1150.4 C373.3,1150.4 381.5,1130.0 381.5,1130.0 C381.5,1130.0 385.3,1120.5 385.3,1120.5 C385.3,1120.5 397.4,1105.3 397.4,1105.3 C397.4,1105.3 407.8,1105.3 407.8,1105.3 C407.8,1105.3 419.1,1119.7 419.1,1119.7 C419.1,1119.7 427.6,1140.0 427.6,1140.0 C427.6,1140.0 434.0,1154.0 434.0,1154.0 C434.0,1154.0 441.0,1172.7 441.0,1172.7 C441.0,1172.7 451.5,1198.4 451.5,1198.4 C451.5,1198.4 462.6,1215.9 462.6,1215.9 C462.6,1215.9 473.7,1226.4 473.7,1226.4 C473.7,1226.4 485.4,1230.5 485.4,1230.5 C485.4,1230.5 500.0,1234.0 500.0,1234.0 C500.0,1234.0 520.5,1242.1 520.5,1242.1 C520.5,1242.1 535.8,1249.8 535.8,1249.8 C535.8,1249.8 551.2,1254.4 551.2,1254.4 C551.2,1254.4 569.6,1257.4 569.6,1257.4 C569.6,1257.4 584.9,1259.9 584.9,1259.9 C584.9,1259.9 597.1,1263.6 597.1,1263.6 C597.1,1263.6 612.5,1270.3 612.5,1270.3 C612.5,1270.3 627.8,1276.5 627.8,1276.5 C627.8,1276.5 643.1,1280.4 643.1,1280.4 C643.1,1280.4 655.9,1281.4 655.9,1281.4" fill="none" stroke="#000" stroke-width="2.15" stroke-linejoin="round"/>
<path d="M104.0,1289.5 C104.0,1289.5 136.7,1288.9 136.7,1288.9 C136.7,1288.9 157.1,1286.4 157.1,1286.4 C157.1,1286.4 171.4,1284.4 171.4,1284.4 C171.4,1284.4 185.7,1281.7 185.7,1281.7 C185.7,1281.7 202.1,1277.2 202.1,1277.2 C202.1,1277.2 218.4,1270.7 218.4,1270.7 C218.4,1270.7 232.8,1265.0 232.8,1265.0 C232.8,1265.0 244.0,1260.3 244.0,1260.3 C244.0,1260.3 254.0,1255.0 254.0,1255.0 C254.0,1255.0 268.0,1251.0 268.0,1251.0 C268.0,1251.0 282.0,1248.0 282.0,1248.0 C282.0,1248.0 296.1,1246.2 296.1,1246.2 C296.1,1246.2 310.1,1245.2 310.1,1245.2 C310.1,1245.2 319.7,1243.9 319.7,1243.9 C319.7,1243.9 330.0,1240.7 330.0,1240.7 C330.0,1240.7 341.7,1231.6 341.7,1231.6 C341.7,1231.6 352.6,1217.0 352.6,1217.0 C352.6,1217.0 360.0,1203.6 360.0,1203.6 C360.0,1203.6 368.2,1187.2 368.2,1187.2 C368.2,1187.2 376.4,1168.8 376.4,1168.8 C376.4,1168.8 385.5,1150.4 385.5,1150.4 C385.5,1150.4 396.8,1135.1 396.8,1135.1 C396.8,1135.1 407.5,1131.2 407.5,1131.2 C407.5,1131.2 418.8,1139.2 418.8,1139.2 C418.8,1139.2 429.3,1155.2 429.3,1155.2 C429.3,1155.2 438.7,1175.0 438.7,1175.0 C438.7,1175.0 448.0,1193.7 448.0,1193.7 C448.0,1193.7 455.0,1206.6 455.0,1206.6 C455.0,1206.6 463.2,1219.4 463.2,1219.4 C463.2,1219.4 472.6,1228.8 472.6,1228.8 C472.6,1228.8 484.2,1236.4 484.2,1236.4 C484.2,1236.4 500.0,1239.9 500.0,1239.9 C500.0,1239.9 517.4,1242.7 517.4,1242.7 C517.4,1242.7 532.8,1248.2 532.8,1248.2 C532.8,1248.2 548.1,1253.8 548.1,1253.8 C548.1,1253.8 566.5,1256.8 566.5,1256.8 C566.5,1256.8 584.9,1260.5 584.9,1260.5 C584.9,1260.5 600.2,1265.1 600.2,1265.1 C600.2,1265.1 615.5,1271.2 615.5,1271.2 C615.5,1271.2 630.9,1276.8 630.9,1276.8 C630.9,1276.8 646.2,1280.4 646.2,1280.4 C646.2,1280.4 655.9,1281.4 655.9,1281.4" fill="none" stroke="#0000ff" stroke-width="2.15" stroke-linejoin="round"/>
<path d="M104.0,1289.5 C113.0,1289.5 136.7,1289.6 149.0,1289.5 C161.3,1289.4 160.0,1289.6 165.3,1289.1 C170.6,1288.6 171.4,1288.6 175.5,1287.0 C179.6,1285.4 181.2,1284.0 185.7,1281.3 C190.2,1278.6 193.3,1276.0 198.0,1273.5 C202.7,1271.0 205.2,1269.6 209.3,1269.0 C213.4,1268.4 214.1,1269.3 218.4,1270.7 C222.7,1272.1 226.4,1274.5 230.7,1276.2 C235.0,1277.9 236.4,1278.3 240.0,1279.0 C243.6,1279.7 244.9,1280.2 248.8,1279.5 C252.7,1278.8 254.8,1278.2 259.3,1275.5 C263.8,1272.8 266.3,1269.8 271.5,1265.8 C276.7,1261.8 279.9,1258.3 285.5,1255.3 C291.1,1252.3 294.0,1251.8 299.6,1251.0 C305.2,1250.2 307.5,1250.9 313.6,1251.5 C319.7,1252.1 324.5,1254.1 330.0,1254.2 C335.5,1254.3 337.1,1253.5 340.9,1252.0 C344.7,1250.5 345.6,1250.2 349.0,1246.9 C352.4,1243.6 354.2,1240.8 357.7,1235.3 C361.2,1229.8 363.8,1224.3 366.5,1219.2 C369.2,1214.1 368.8,1214.9 371.2,1209.7 C373.6,1204.5 375.5,1199.5 378.4,1193.4 C381.3,1187.3 382.6,1184.3 385.5,1179.0 C388.4,1173.7 389.6,1171.5 392.7,1166.8 C395.8,1162.1 397.8,1158.9 400.9,1155.5 C404.0,1152.1 405.6,1151.1 408.0,1149.9 C410.4,1148.7 410.8,1149.1 413.1,1149.6 C415.4,1150.1 416.3,1150.2 419.3,1152.5 C422.3,1154.8 424.6,1156.3 428.2,1161.0 C431.8,1165.7 433.8,1169.7 437.5,1176.2 C441.2,1182.7 443.4,1187.4 446.9,1193.7 C450.4,1200.0 451.5,1202.1 455.0,1207.7 C458.5,1213.3 460.7,1216.7 464.4,1221.8 C468.1,1226.9 469.5,1229.4 473.7,1233.4 C477.9,1237.4 480.1,1239.3 485.4,1241.6 C490.7,1243.9 493.0,1243.8 500.0,1245.1 C507.0,1246.4 512.7,1246.7 520.5,1248.2 C528.3,1249.7 531.5,1251.3 538.9,1252.8 C546.3,1254.3 549.9,1254.7 557.3,1255.9 C564.7,1257.1 568.3,1257.5 575.7,1259.0 C583.1,1260.5 587.4,1261.6 594.1,1263.6 C600.8,1265.6 603.3,1266.8 609.4,1269.1 C615.5,1271.4 618.6,1273.1 624.7,1275.2 C630.8,1277.3 633.9,1278.3 640.1,1279.5 C646.3,1280.7 652.7,1281.0 655.9,1281.4" fill="none" stroke="#40ff00" stroke-width="2.15" stroke-linejoin="round"/>
<path d="M104.0,1289.5 C114.2,1289.5 142.0,1289.8 155.1,1289.5 C168.2,1289.2 164.5,1288.9 169.4,1287.9 C174.3,1286.9 175.1,1286.0 179.6,1284.4 C184.1,1282.8 186.6,1281.2 191.9,1279.7 C197.2,1278.2 200.9,1277.1 206.2,1276.8 C211.5,1276.5 213.5,1277.3 218.4,1278.2 C223.3,1279.1 226.4,1280.6 230.7,1281.3 C235.0,1282.0 236.0,1281.6 240.0,1281.6 C244.0,1281.6 245.9,1282.3 250.5,1281.3 C255.1,1280.3 257.5,1278.6 262.8,1276.4 C268.1,1274.2 270.8,1272.4 276.8,1270.2 C282.8,1268.0 286.6,1266.4 292.6,1265.5 C298.6,1264.6 300.3,1265.3 306.6,1265.8 C312.9,1266.3 319.4,1267.9 324.1,1268.1 C328.8,1268.3 326.5,1267.7 330.0,1267.0 C333.5,1266.3 337.3,1266.5 341.7,1264.5 C346.1,1262.5 348.0,1260.7 351.9,1257.2 C355.8,1253.7 357.6,1252.0 361.4,1246.9 C365.2,1241.8 367.2,1237.9 370.9,1231.6 C374.6,1225.3 377.4,1219.9 380.0,1215.5 C382.6,1211.1 381.9,1213.3 384.0,1209.7 C386.1,1206.1 387.3,1203.1 390.7,1197.4 C394.1,1191.7 397.4,1185.6 400.9,1181.1 C404.4,1176.6 405.3,1176.8 408.0,1175.0 C410.7,1173.2 411.9,1172.6 414.2,1171.9 C416.5,1171.2 417.1,1171.0 419.3,1171.4 C421.5,1171.8 423.3,1172.7 425.4,1173.9 C427.5,1175.1 427.6,1174.9 430.0,1177.5 C432.4,1180.1 434.1,1182.1 437.5,1186.7 C440.9,1191.3 443.2,1194.9 446.9,1200.7 C450.6,1206.5 452.5,1210.1 456.2,1215.9 C459.9,1221.7 461.8,1225.0 465.5,1229.9 C469.2,1234.8 470.9,1237.0 474.9,1240.4 C478.9,1243.8 481.9,1245.0 485.4,1246.9 C488.9,1248.8 488.4,1248.6 492.4,1249.8 C496.4,1251.0 499.6,1252.0 505.2,1252.8 C510.8,1253.6 513.8,1253.4 520.5,1253.8 C527.2,1254.2 531.5,1254.3 538.9,1255.0 C546.3,1255.7 549.9,1256.2 557.3,1257.4 C564.7,1258.6 568.3,1259.4 575.7,1261.1 C583.1,1262.8 587.4,1264.0 594.1,1266.0 C600.8,1268.0 603.3,1269.0 609.4,1271.2 C615.5,1273.4 618.6,1275.0 624.7,1276.8 C630.8,1278.6 633.9,1279.5 640.1,1280.4 C646.3,1281.3 652.7,1281.2 655.9,1281.4" fill="none" stroke="#ff180a" stroke-width="2.15" stroke-linejoin="round"/>
</svg></body></html>
